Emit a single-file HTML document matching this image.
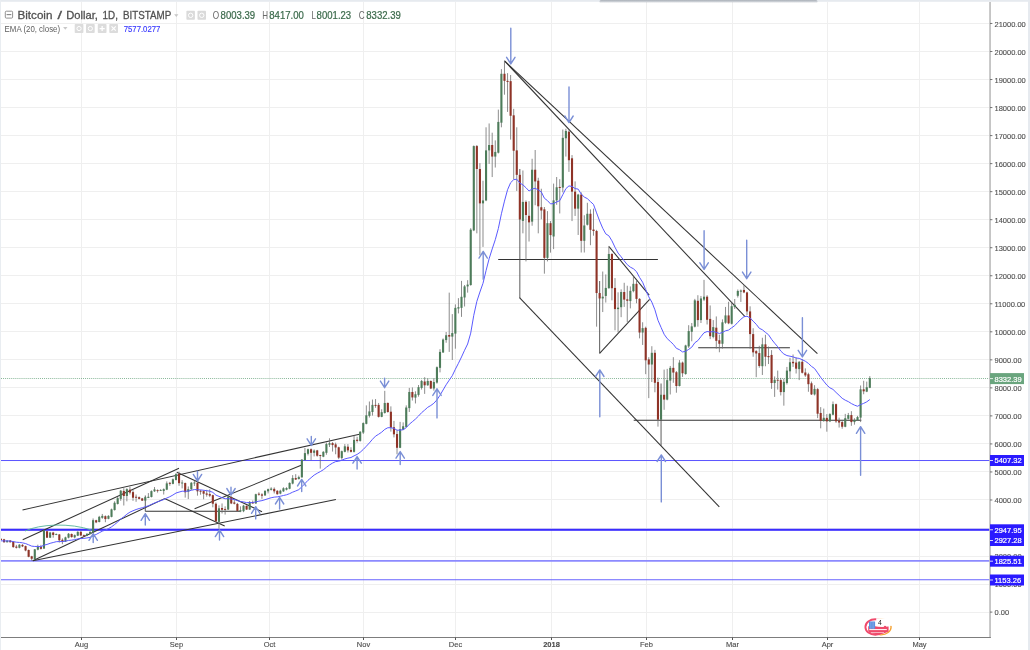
<!DOCTYPE html><html><head><meta charset="utf-8"><title>Bitcoin / Dollar, 1D, BITSTAMP</title><style>html,body{margin:0;padding:0;background:#fff}svg{display:block;will-change:transform}</style></head><body><svg width="1030" height="650" viewBox="0 0 1030 650" font-family="'Liberation Sans', Arial, sans-serif">
<rect width="1030" height="650" fill="#fff"/>
<line x1="81.5" y1="2" x2="81.5" y2="637" stroke="#efefef" stroke-width="1"/>
<line x1="176.5" y1="2" x2="176.5" y2="637" stroke="#efefef" stroke-width="1"/>
<line x1="269.5" y1="2" x2="269.5" y2="637" stroke="#efefef" stroke-width="1"/>
<line x1="363.5" y1="2" x2="363.5" y2="637" stroke="#efefef" stroke-width="1"/>
<line x1="455.5" y1="2" x2="455.5" y2="637" stroke="#efefef" stroke-width="1"/>
<line x1="551.5" y1="2" x2="551.5" y2="637" stroke="#efefef" stroke-width="1"/>
<line x1="646.5" y1="2" x2="646.5" y2="637" stroke="#efefef" stroke-width="1"/>
<line x1="732.5" y1="2" x2="732.5" y2="637" stroke="#efefef" stroke-width="1"/>
<line x1="827.5" y1="2" x2="827.5" y2="637" stroke="#efefef" stroke-width="1"/>
<line x1="919.5" y1="2" x2="919.5" y2="637" stroke="#efefef" stroke-width="1"/>
<line x1="1" y1="612.5" x2="990" y2="612.5" stroke="#efefef" stroke-width="1"/>
<line x1="1" y1="584.5" x2="990" y2="584.5" stroke="#efefef" stroke-width="1"/>
<line x1="1" y1="556.5" x2="990" y2="556.5" stroke="#efefef" stroke-width="1"/>
<line x1="1" y1="528.5" x2="990" y2="528.5" stroke="#efefef" stroke-width="1"/>
<line x1="1" y1="499.5" x2="990" y2="499.5" stroke="#efefef" stroke-width="1"/>
<line x1="1" y1="471.5" x2="990" y2="471.5" stroke="#efefef" stroke-width="1"/>
<line x1="1" y1="443.5" x2="990" y2="443.5" stroke="#efefef" stroke-width="1"/>
<line x1="1" y1="415.5" x2="990" y2="415.5" stroke="#efefef" stroke-width="1"/>
<line x1="1" y1="387.5" x2="990" y2="387.5" stroke="#efefef" stroke-width="1"/>
<line x1="1" y1="359.5" x2="990" y2="359.5" stroke="#efefef" stroke-width="1"/>
<line x1="1" y1="331.5" x2="990" y2="331.5" stroke="#efefef" stroke-width="1"/>
<line x1="1" y1="303.5" x2="990" y2="303.5" stroke="#efefef" stroke-width="1"/>
<line x1="1" y1="275.5" x2="990" y2="275.5" stroke="#efefef" stroke-width="1"/>
<line x1="1" y1="247.5" x2="990" y2="247.5" stroke="#efefef" stroke-width="1"/>
<line x1="1" y1="219.5" x2="990" y2="219.5" stroke="#efefef" stroke-width="1"/>
<line x1="1" y1="191.5" x2="990" y2="191.5" stroke="#efefef" stroke-width="1"/>
<line x1="1" y1="163.5" x2="990" y2="163.5" stroke="#efefef" stroke-width="1"/>
<line x1="1" y1="135.5" x2="990" y2="135.5" stroke="#efefef" stroke-width="1"/>
<line x1="1" y1="107.5" x2="990" y2="107.5" stroke="#efefef" stroke-width="1"/>
<line x1="1" y1="79.5" x2="990" y2="79.5" stroke="#efefef" stroke-width="1"/>
<line x1="1" y1="51.5" x2="990" y2="51.5" stroke="#efefef" stroke-width="1"/>
<line x1="1" y1="23.5" x2="990" y2="23.5" stroke="#efefef" stroke-width="1"/>
<line x1="1" y1="460.53" x2="990" y2="460.53" stroke="#5b55ff" stroke-width="1.0"/>
<line x1="1" y1="529.47" x2="990" y2="529.47" stroke="#3a2cff" stroke-width="1.35"/>
<line x1="1" y1="530.05" x2="990" y2="530.05" stroke="#3a2cff" stroke-width="1.35"/>
<line x1="1" y1="560.93" x2="990" y2="560.93" stroke="#8c8aff" stroke-width="1.7"/>
<line x1="1" y1="579.77" x2="990" y2="579.77" stroke="#6763ff" stroke-width="1.2"/>
<line x1="1" y1="378.5" x2="990" y2="378.5" stroke="#6aa57e" stroke-width="0.8" stroke-dasharray="1,1.05"/>
<line x1="22.5" y1="509.9" x2="359.5" y2="434.2" stroke="#333" stroke-width="1.05"/>
<line x1="22.7" y1="539.7" x2="179.0" y2="468.3" stroke="#333" stroke-width="1.05"/>
<line x1="32.8" y1="560.7" x2="164.5" y2="498.6" stroke="#333" stroke-width="1.05"/>
<line x1="32.8" y1="560.7" x2="335.9" y2="499.6" stroke="#333" stroke-width="1.05"/>
<line x1="176.8" y1="472.3" x2="262.0" y2="511.7" stroke="#333" stroke-width="1.05"/>
<line x1="164.5" y1="498.6" x2="224.7" y2="525.9" stroke="#333" stroke-width="1.05"/>
<line x1="145.3" y1="511.3" x2="240.5" y2="511.3" stroke="#333" stroke-width="1.05"/>
<line x1="194.6" y1="508.8" x2="301.8" y2="465.0" stroke="#333" stroke-width="1.05"/>
<line x1="504.5" y1="60.9" x2="817.4" y2="353.6" stroke="#333" stroke-width="1.05"/>
<line x1="504.5" y1="60.9" x2="745.0" y2="316.7" stroke="#333" stroke-width="1.05"/>
<line x1="519.5" y1="297.6" x2="719.3" y2="506.8" stroke="#333" stroke-width="1.05"/>
<line x1="498.2" y1="259.4" x2="657.9" y2="259.4" stroke="#333" stroke-width="1.05"/>
<line x1="609.0" y1="246.6" x2="649.2" y2="295.2" stroke="#333" stroke-width="1.05"/>
<line x1="599.6" y1="353.4" x2="649.6" y2="299.4" stroke="#333" stroke-width="1.05"/>
<line x1="698.2" y1="347.7" x2="789.9" y2="347.7" stroke="#333" stroke-width="1.05"/>
<line x1="633.7" y1="420.2" x2="861.3" y2="420.2" stroke="#333" stroke-width="1.05"/>
<path d="M25,531 C40,524 70,522.5 92,530.2" fill="none" stroke="#55b39a" stroke-width="0.9"/>
<line x1="1.00" y1="538.35" x2="1.00" y2="540.29" stroke="#6e6e6e" stroke-width="0.8"/>
<rect x="-0.05" y="538.83" width="2.1" height="1.17" fill="#8f3327"/>
<line x1="4.07" y1="538.83" x2="4.07" y2="542.72" stroke="#6e6e6e" stroke-width="0.8"/>
<rect x="3.02" y="539.32" width="2.1" height="2.91" fill="#8f3327"/>
<line x1="7.14" y1="540.29" x2="7.14" y2="542.52" stroke="#6e6e6e" stroke-width="0.8"/>
<rect x="6.09" y="540.58" width="2.1" height="1.65" fill="#4d7c5a"/>
<line x1="10.21" y1="540.00" x2="10.21" y2="542.52" stroke="#6e6e6e" stroke-width="0.8"/>
<rect x="9.16" y="540.58" width="2.1" height="1.65" fill="#8f3327"/>
<line x1="13.28" y1="541.26" x2="13.28" y2="547.77" stroke="#6e6e6e" stroke-width="0.8"/>
<rect x="12.23" y="541.75" width="2.1" height="5.34" fill="#8f3327"/>
<line x1="16.35" y1="544.85" x2="16.35" y2="548.54" stroke="#6e6e6e" stroke-width="0.8"/>
<rect x="15.30" y="546.60" width="2.1" height="1.17" fill="#8f3327"/>
<line x1="19.42" y1="544.17" x2="19.42" y2="548.35" stroke="#6e6e6e" stroke-width="0.8"/>
<rect x="18.37" y="544.66" width="2.1" height="3.11" fill="#4d7c5a"/>
<line x1="22.49" y1="544.17" x2="22.49" y2="547.09" stroke="#6e6e6e" stroke-width="0.8"/>
<rect x="21.44" y="544.85" width="2.1" height="1.55" fill="#8f3327"/>
<line x1="25.56" y1="545.63" x2="25.56" y2="551.26" stroke="#6e6e6e" stroke-width="0.8"/>
<rect x="24.51" y="546.12" width="2.1" height="4.37" fill="#8f3327"/>
<line x1="28.63" y1="549.51" x2="28.63" y2="557.28" stroke="#6e6e6e" stroke-width="0.8"/>
<rect x="27.58" y="550.00" width="2.1" height="6.80" fill="#8f3327"/>
<line x1="31.70" y1="555.83" x2="31.70" y2="560.68" stroke="#6e6e6e" stroke-width="0.8"/>
<rect x="30.65" y="556.31" width="2.1" height="2.43" fill="#8f3327"/>
<line x1="34.77" y1="549.03" x2="34.77" y2="559.42" stroke="#6e6e6e" stroke-width="0.8"/>
<rect x="33.72" y="549.32" width="2.1" height="9.90" fill="#4d7c5a"/>
<line x1="37.84" y1="544.66" x2="37.84" y2="550.29" stroke="#6e6e6e" stroke-width="0.8"/>
<rect x="36.79" y="546.60" width="2.1" height="3.11" fill="#4d7c5a"/>
<line x1="40.91" y1="544.85" x2="40.91" y2="549.51" stroke="#6e6e6e" stroke-width="0.8"/>
<rect x="39.86" y="547.09" width="2.1" height="1.75" fill="#8f3327"/>
<line x1="43.98" y1="529.61" x2="43.98" y2="549.03" stroke="#6e6e6e" stroke-width="0.8"/>
<rect x="42.93" y="530.58" width="2.1" height="17.96" fill="#4d7c5a"/>
<line x1="47.05" y1="530.87" x2="47.05" y2="538.06" stroke="#6e6e6e" stroke-width="0.8"/>
<rect x="46.00" y="531.26" width="2.1" height="6.41" fill="#8f3327"/>
<line x1="50.12" y1="531.84" x2="50.12" y2="538.06" stroke="#6e6e6e" stroke-width="0.8"/>
<rect x="49.07" y="532.52" width="2.1" height="5.15" fill="#4d7c5a"/>
<line x1="53.19" y1="531.84" x2="53.19" y2="537.67" stroke="#6e6e6e" stroke-width="0.8"/>
<rect x="52.14" y="532.52" width="2.1" height="2.43" fill="#8f3327"/>
<line x1="56.26" y1="533.50" x2="56.26" y2="535.15" stroke="#6e6e6e" stroke-width="0.8"/>
<rect x="55.21" y="533.98" width="2.1" height="0.90" fill="#4d7c5a"/>
<line x1="59.33" y1="533.98" x2="59.33" y2="542.52" stroke="#6e6e6e" stroke-width="0.8"/>
<rect x="58.28" y="534.47" width="2.1" height="5.83" fill="#8f3327"/>
<line x1="62.40" y1="538.35" x2="62.40" y2="544.17" stroke="#6e6e6e" stroke-width="0.8"/>
<rect x="61.35" y="539.81" width="2.1" height="1.75" fill="#8f3327"/>
<line x1="65.47" y1="536.70" x2="65.47" y2="541.94" stroke="#6e6e6e" stroke-width="0.8"/>
<rect x="64.42" y="537.38" width="2.1" height="4.17" fill="#4d7c5a"/>
<line x1="68.54" y1="533.01" x2="68.54" y2="538.35" stroke="#6e6e6e" stroke-width="0.8"/>
<rect x="67.49" y="533.79" width="2.1" height="3.88" fill="#4d7c5a"/>
<line x1="71.61" y1="533.50" x2="71.61" y2="537.67" stroke="#6e6e6e" stroke-width="0.8"/>
<rect x="70.56" y="533.98" width="2.1" height="3.11" fill="#8f3327"/>
<line x1="74.68" y1="534.47" x2="74.68" y2="538.35" stroke="#6e6e6e" stroke-width="0.8"/>
<rect x="73.63" y="535.15" width="2.1" height="2.23" fill="#4d7c5a"/>
<line x1="77.75" y1="531.26" x2="77.75" y2="536.12" stroke="#6e6e6e" stroke-width="0.8"/>
<rect x="76.70" y="531.84" width="2.1" height="3.88" fill="#4d7c5a"/>
<line x1="80.82" y1="531.07" x2="80.82" y2="536.12" stroke="#6e6e6e" stroke-width="0.8"/>
<rect x="79.77" y="531.84" width="2.1" height="3.59" fill="#8f3327"/>
<line x1="83.89" y1="534.47" x2="83.89" y2="536.89" stroke="#6e6e6e" stroke-width="0.8"/>
<rect x="82.84" y="535.15" width="2.1" height="1.26" fill="#8f3327"/>
<line x1="86.96" y1="533.20" x2="86.96" y2="536.12" stroke="#6e6e6e" stroke-width="0.8"/>
<rect x="85.91" y="533.79" width="2.1" height="1.94" fill="#4d7c5a"/>
<line x1="90.03" y1="531.26" x2="90.03" y2="534.47" stroke="#6e6e6e" stroke-width="0.8"/>
<rect x="88.98" y="531.84" width="2.1" height="2.14" fill="#4d7c5a"/>
<line x1="93.10" y1="518.45" x2="93.10" y2="533.01" stroke="#6e6e6e" stroke-width="0.8"/>
<rect x="92.05" y="520.19" width="2.1" height="12.33" fill="#4d7c5a"/>
<line x1="96.17" y1="519.77" x2="96.17" y2="523.17" stroke="#6e6e6e" stroke-width="0.8"/>
<rect x="95.12" y="520.25" width="2.1" height="2.14" fill="#8f3327"/>
<line x1="99.24" y1="515.88" x2="99.24" y2="522.39" stroke="#6e6e6e" stroke-width="0.8"/>
<rect x="98.19" y="516.85" width="2.1" height="5.15" fill="#4d7c5a"/>
<line x1="102.31" y1="513.94" x2="102.31" y2="518.80" stroke="#6e6e6e" stroke-width="0.8"/>
<rect x="101.26" y="515.88" width="2.1" height="1.94" fill="#4d7c5a"/>
<line x1="105.38" y1="515.40" x2="105.38" y2="522.19" stroke="#6e6e6e" stroke-width="0.8"/>
<rect x="104.33" y="516.17" width="2.1" height="2.91" fill="#8f3327"/>
<line x1="108.45" y1="515.20" x2="108.45" y2="519.28" stroke="#6e6e6e" stroke-width="0.8"/>
<rect x="107.40" y="515.88" width="2.1" height="2.91" fill="#4d7c5a"/>
<line x1="111.52" y1="508.60" x2="111.52" y2="517.34" stroke="#6e6e6e" stroke-width="0.8"/>
<rect x="110.47" y="509.38" width="2.1" height="7.48" fill="#4d7c5a"/>
<line x1="114.59" y1="501.32" x2="114.59" y2="510.54" stroke="#6e6e6e" stroke-width="0.8"/>
<rect x="113.54" y="502.78" width="2.1" height="7.28" fill="#4d7c5a"/>
<line x1="117.66" y1="496.95" x2="117.66" y2="504.52" stroke="#6e6e6e" stroke-width="0.8"/>
<rect x="116.61" y="498.12" width="2.1" height="5.83" fill="#4d7c5a"/>
<line x1="120.73" y1="489.96" x2="120.73" y2="500.83" stroke="#6e6e6e" stroke-width="0.8"/>
<rect x="119.68" y="490.64" width="2.1" height="8.25" fill="#4d7c5a"/>
<line x1="123.80" y1="488.21" x2="123.80" y2="505.50" stroke="#6e6e6e" stroke-width="0.8"/>
<rect x="122.75" y="490.93" width="2.1" height="5.05" fill="#8f3327"/>
<line x1="126.87" y1="488.21" x2="126.87" y2="501.32" stroke="#6e6e6e" stroke-width="0.8"/>
<rect x="125.82" y="489.18" width="2.1" height="6.80" fill="#4d7c5a"/>
<line x1="129.94" y1="486.76" x2="129.94" y2="494.52" stroke="#6e6e6e" stroke-width="0.8"/>
<rect x="128.89" y="489.67" width="2.1" height="2.91" fill="#8f3327"/>
<line x1="133.01" y1="490.16" x2="133.01" y2="500.83" stroke="#6e6e6e" stroke-width="0.8"/>
<rect x="131.96" y="492.10" width="2.1" height="5.63" fill="#8f3327"/>
<line x1="136.08" y1="494.52" x2="136.08" y2="501.81" stroke="#6e6e6e" stroke-width="0.8"/>
<rect x="135.03" y="496.76" width="2.1" height="0.97" fill="#8f3327"/>
<line x1="139.15" y1="496.47" x2="139.15" y2="499.38" stroke="#6e6e6e" stroke-width="0.8"/>
<rect x="138.10" y="497.15" width="2.1" height="1.75" fill="#8f3327"/>
<line x1="142.22" y1="497.92" x2="142.22" y2="501.03" stroke="#6e6e6e" stroke-width="0.8"/>
<rect x="141.17" y="498.41" width="2.1" height="2.23" fill="#8f3327"/>
<line x1="145.29" y1="495.50" x2="145.29" y2="511.32" stroke="#4a4a4a" stroke-width="0.9"/>
<rect x="144.24" y="497.15" width="2.1" height="3.50" fill="#4d7c5a"/>
<line x1="148.36" y1="493.07" x2="148.36" y2="498.12" stroke="#6e6e6e" stroke-width="0.8"/>
<rect x="147.31" y="496.76" width="2.1" height="1.17" fill="#4d7c5a"/>
<line x1="151.43" y1="490.35" x2="151.43" y2="497.44" stroke="#6e6e6e" stroke-width="0.8"/>
<rect x="150.38" y="491.13" width="2.1" height="5.83" fill="#4d7c5a"/>
<line x1="154.50" y1="487.05" x2="154.50" y2="491.90" stroke="#6e6e6e" stroke-width="0.8"/>
<rect x="153.45" y="489.38" width="2.1" height="1.94" fill="#4d7c5a"/>
<line x1="157.57" y1="489.38" x2="157.57" y2="492.58" stroke="#6e6e6e" stroke-width="0.8"/>
<rect x="156.52" y="490.16" width="2.1" height="0.90" fill="#8f3327"/>
<line x1="160.64" y1="489.18" x2="160.64" y2="490.93" stroke="#6e6e6e" stroke-width="0.8"/>
<rect x="159.59" y="489.96" width="2.1" height="0.90" fill="#4d7c5a"/>
<line x1="163.71" y1="488.41" x2="163.71" y2="494.52" stroke="#6e6e6e" stroke-width="0.8"/>
<rect x="162.66" y="489.18" width="2.1" height="1.75" fill="#4d7c5a"/>
<line x1="166.78" y1="481.42" x2="166.78" y2="490.16" stroke="#6e6e6e" stroke-width="0.8"/>
<rect x="165.73" y="483.36" width="2.1" height="6.31" fill="#4d7c5a"/>
<line x1="169.85" y1="481.90" x2="169.85" y2="485.79" stroke="#6e6e6e" stroke-width="0.8"/>
<rect x="168.80" y="482.87" width="2.1" height="0.97" fill="#8f3327"/>
<line x1="172.92" y1="478.50" x2="172.92" y2="484.33" stroke="#6e6e6e" stroke-width="0.8"/>
<rect x="171.87" y="479.28" width="2.1" height="4.56" fill="#4d7c5a"/>
<line x1="175.99" y1="473.17" x2="175.99" y2="480.45" stroke="#6e6e6e" stroke-width="0.8"/>
<rect x="174.94" y="474.14" width="2.1" height="5.83" fill="#4d7c5a"/>
<line x1="179.06" y1="471.71" x2="179.06" y2="485.79" stroke="#6e6e6e" stroke-width="0.8"/>
<rect x="178.01" y="473.84" width="2.1" height="9.32" fill="#8f3327"/>
<line x1="182.13" y1="480.14" x2="182.13" y2="488.39" stroke="#6e6e6e" stroke-width="0.8"/>
<rect x="181.08" y="482.56" width="2.1" height="0.90" fill="#4d7c5a"/>
<line x1="185.20" y1="482.56" x2="185.20" y2="497.61" stroke="#6e6e6e" stroke-width="0.8"/>
<rect x="184.15" y="483.05" width="2.1" height="9.22" fill="#8f3327"/>
<line x1="188.27" y1="486.45" x2="188.27" y2="499.07" stroke="#6e6e6e" stroke-width="0.8"/>
<rect x="187.22" y="489.17" width="2.1" height="2.62" fill="#4d7c5a"/>
<line x1="191.34" y1="482.08" x2="191.34" y2="489.84" stroke="#6e6e6e" stroke-width="0.8"/>
<rect x="190.29" y="482.76" width="2.1" height="6.60" fill="#4d7c5a"/>
<line x1="194.41" y1="480.62" x2="194.41" y2="485.96" stroke="#6e6e6e" stroke-width="0.8"/>
<rect x="193.36" y="482.56" width="2.1" height="0.90" fill="#4d7c5a"/>
<line x1="197.48" y1="482.08" x2="197.48" y2="495.67" stroke="#6e6e6e" stroke-width="0.8"/>
<rect x="196.43" y="482.76" width="2.1" height="8.54" fill="#8f3327"/>
<line x1="200.55" y1="489.84" x2="200.55" y2="494.70" stroke="#6e6e6e" stroke-width="0.8"/>
<rect x="199.50" y="490.82" width="2.1" height="0.90" fill="#8f3327"/>
<line x1="203.62" y1="490.33" x2="203.62" y2="499.26" stroke="#6e6e6e" stroke-width="0.8"/>
<rect x="202.57" y="491.11" width="2.1" height="2.62" fill="#8f3327"/>
<line x1="206.69" y1="489.84" x2="206.69" y2="496.64" stroke="#6e6e6e" stroke-width="0.8"/>
<rect x="205.64" y="493.44" width="2.1" height="1.26" fill="#8f3327"/>
<line x1="209.76" y1="489.36" x2="209.76" y2="497.13" stroke="#6e6e6e" stroke-width="0.8"/>
<rect x="208.71" y="494.02" width="2.1" height="1.65" fill="#8f3327"/>
<line x1="212.83" y1="494.70" x2="212.83" y2="507.32" stroke="#6e6e6e" stroke-width="0.8"/>
<rect x="211.78" y="495.18" width="2.1" height="8.54" fill="#8f3327"/>
<line x1="215.90" y1="502.47" x2="215.90" y2="521.88" stroke="#6e6e6e" stroke-width="0.8"/>
<rect x="214.85" y="503.73" width="2.1" height="17.67" fill="#8f3327"/>
<line x1="218.97" y1="505.38" x2="218.97" y2="528.68" stroke="#6e6e6e" stroke-width="0.8"/>
<rect x="217.92" y="508.29" width="2.1" height="13.59" fill="#4d7c5a"/>
<line x1="222.04" y1="503.44" x2="222.04" y2="513.44" stroke="#6e6e6e" stroke-width="0.8"/>
<rect x="220.99" y="508.00" width="2.1" height="1.75" fill="#8f3327"/>
<line x1="225.11" y1="506.35" x2="225.11" y2="514.60" stroke="#6e6e6e" stroke-width="0.8"/>
<rect x="224.06" y="508.97" width="2.1" height="0.90" fill="#8f3327"/>
<line x1="228.18" y1="495.67" x2="228.18" y2="509.94" stroke="#6e6e6e" stroke-width="0.8"/>
<rect x="227.13" y="496.64" width="2.1" height="12.91" fill="#4d7c5a"/>
<line x1="231.25" y1="496.16" x2="231.25" y2="504.12" stroke="#6e6e6e" stroke-width="0.8"/>
<rect x="230.20" y="497.13" width="2.1" height="6.31" fill="#8f3327"/>
<line x1="234.32" y1="499.55" x2="234.32" y2="504.41" stroke="#6e6e6e" stroke-width="0.8"/>
<rect x="233.27" y="502.47" width="2.1" height="1.26" fill="#8f3327"/>
<line x1="237.39" y1="502.95" x2="237.39" y2="511.50" stroke="#6e6e6e" stroke-width="0.8"/>
<rect x="236.34" y="503.92" width="2.1" height="6.99" fill="#8f3327"/>
<line x1="240.46" y1="506.35" x2="240.46" y2="512.17" stroke="#6e6e6e" stroke-width="0.8"/>
<rect x="239.41" y="510.23" width="2.1" height="1.26" fill="#4d7c5a"/>
<line x1="243.53" y1="504.89" x2="243.53" y2="512.17" stroke="#6e6e6e" stroke-width="0.8"/>
<rect x="242.48" y="505.67" width="2.1" height="5.53" fill="#4d7c5a"/>
<line x1="246.60" y1="505.38" x2="246.60" y2="509.94" stroke="#6e6e6e" stroke-width="0.8"/>
<rect x="245.55" y="505.86" width="2.1" height="3.69" fill="#8f3327"/>
<line x1="249.67" y1="501.01" x2="249.67" y2="509.94" stroke="#6e6e6e" stroke-width="0.8"/>
<rect x="248.62" y="501.98" width="2.1" height="7.57" fill="#4d7c5a"/>
<line x1="252.74" y1="500.52" x2="252.74" y2="503.73" stroke="#6e6e6e" stroke-width="0.8"/>
<rect x="251.69" y="501.98" width="2.1" height="1.46" fill="#8f3327"/>
<line x1="255.81" y1="493.73" x2="255.81" y2="503.92" stroke="#6e6e6e" stroke-width="0.8"/>
<rect x="254.76" y="494.21" width="2.1" height="9.22" fill="#4d7c5a"/>
<line x1="258.88" y1="492.27" x2="258.88" y2="495.67" stroke="#6e6e6e" stroke-width="0.8"/>
<rect x="257.83" y="493.73" width="2.1" height="0.97" fill="#8f3327"/>
<line x1="261.95" y1="493.24" x2="261.95" y2="498.87" stroke="#6e6e6e" stroke-width="0.8"/>
<rect x="260.90" y="494.41" width="2.1" height="1.26" fill="#8f3327"/>
<line x1="265.02" y1="490.33" x2="265.02" y2="495.96" stroke="#6e6e6e" stroke-width="0.8"/>
<rect x="263.97" y="490.82" width="2.1" height="4.56" fill="#4d7c5a"/>
<line x1="268.09" y1="488.58" x2="268.09" y2="493.44" stroke="#6e6e6e" stroke-width="0.8"/>
<rect x="267.04" y="489.17" width="2.1" height="2.14" fill="#4d7c5a"/>
<line x1="271.16" y1="487.22" x2="271.16" y2="490.52" stroke="#6e6e6e" stroke-width="0.8"/>
<rect x="270.11" y="488.58" width="2.1" height="1.26" fill="#4d7c5a"/>
<line x1="274.23" y1="487.42" x2="274.23" y2="493.44" stroke="#6e6e6e" stroke-width="0.8"/>
<rect x="273.18" y="488.87" width="2.1" height="2.43" fill="#8f3327"/>
<line x1="277.30" y1="490.14" x2="277.30" y2="494.70" stroke="#6e6e6e" stroke-width="0.8"/>
<rect x="276.25" y="490.82" width="2.1" height="3.40" fill="#8f3327"/>
<line x1="280.37" y1="489.71" x2="280.37" y2="494.27" stroke="#6e6e6e" stroke-width="0.8"/>
<rect x="279.32" y="490.68" width="2.1" height="2.91" fill="#4d7c5a"/>
<line x1="283.44" y1="487.28" x2="283.44" y2="491.94" stroke="#6e6e6e" stroke-width="0.8"/>
<rect x="282.39" y="488.25" width="2.1" height="3.11" fill="#4d7c5a"/>
<line x1="286.51" y1="487.28" x2="286.51" y2="490.39" stroke="#6e6e6e" stroke-width="0.8"/>
<rect x="285.46" y="488.06" width="2.1" height="1.65" fill="#4d7c5a"/>
<line x1="289.58" y1="482.43" x2="289.58" y2="489.22" stroke="#6e6e6e" stroke-width="0.8"/>
<rect x="288.53" y="482.91" width="2.1" height="5.83" fill="#4d7c5a"/>
<line x1="292.65" y1="475.15" x2="292.65" y2="484.37" stroke="#6e6e6e" stroke-width="0.8"/>
<rect x="291.60" y="478.06" width="2.1" height="5.53" fill="#4d7c5a"/>
<line x1="295.72" y1="474.17" x2="295.72" y2="480.00" stroke="#6e6e6e" stroke-width="0.8"/>
<rect x="294.67" y="478.06" width="2.1" height="1.46" fill="#8f3327"/>
<line x1="298.79" y1="475.63" x2="298.79" y2="479.51" stroke="#6e6e6e" stroke-width="0.8"/>
<rect x="297.74" y="477.09" width="2.1" height="1.94" fill="#4d7c5a"/>
<line x1="301.86" y1="459.13" x2="301.86" y2="477.57" stroke="#6e6e6e" stroke-width="0.8"/>
<rect x="300.81" y="459.61" width="2.1" height="17.77" fill="#4d7c5a"/>
<line x1="304.93" y1="447.96" x2="304.93" y2="460.58" stroke="#6e6e6e" stroke-width="0.8"/>
<rect x="303.88" y="453.11" width="2.1" height="6.99" fill="#4d7c5a"/>
<line x1="308.00" y1="448.64" x2="308.00" y2="455.44" stroke="#6e6e6e" stroke-width="0.8"/>
<rect x="306.95" y="449.22" width="2.1" height="4.56" fill="#4d7c5a"/>
<line x1="311.07" y1="448.45" x2="311.07" y2="460.29" stroke="#6e6e6e" stroke-width="0.8"/>
<rect x="310.02" y="449.22" width="2.1" height="3.59" fill="#8f3327"/>
<line x1="314.14" y1="449.42" x2="314.14" y2="456.41" stroke="#6e6e6e" stroke-width="0.8"/>
<rect x="313.09" y="450.58" width="2.1" height="2.23" fill="#4d7c5a"/>
<line x1="317.21" y1="449.90" x2="317.21" y2="456.70" stroke="#6e6e6e" stroke-width="0.8"/>
<rect x="316.16" y="450.39" width="2.1" height="5.34" fill="#8f3327"/>
<line x1="320.28" y1="454.76" x2="320.28" y2="468.64" stroke="#6e6e6e" stroke-width="0.8"/>
<rect x="319.23" y="455.05" width="2.1" height="0.97" fill="#8f3327"/>
<line x1="323.35" y1="451.17" x2="323.35" y2="457.18" stroke="#6e6e6e" stroke-width="0.8"/>
<rect x="322.30" y="451.84" width="2.1" height="4.85" fill="#4d7c5a"/>
<line x1="326.42" y1="442.62" x2="326.42" y2="454.76" stroke="#6e6e6e" stroke-width="0.8"/>
<rect x="325.37" y="444.08" width="2.1" height="8.74" fill="#4d7c5a"/>
<line x1="329.49" y1="438.25" x2="329.49" y2="446.99" stroke="#6e6e6e" stroke-width="0.8"/>
<rect x="328.44" y="443.11" width="2.1" height="1.65" fill="#4d7c5a"/>
<line x1="332.56" y1="442.14" x2="332.56" y2="451.55" stroke="#6e6e6e" stroke-width="0.8"/>
<rect x="331.51" y="443.11" width="2.1" height="1.94" fill="#8f3327"/>
<line x1="335.63" y1="442.62" x2="335.63" y2="454.27" stroke="#6e6e6e" stroke-width="0.8"/>
<rect x="334.58" y="444.37" width="2.1" height="3.11" fill="#8f3327"/>
<line x1="338.70" y1="446.70" x2="338.70" y2="459.13" stroke="#6e6e6e" stroke-width="0.8"/>
<rect x="337.65" y="447.28" width="2.1" height="10.39" fill="#8f3327"/>
<line x1="341.77" y1="450.58" x2="341.77" y2="459.61" stroke="#6e6e6e" stroke-width="0.8"/>
<rect x="340.72" y="451.17" width="2.1" height="6.80" fill="#4d7c5a"/>
<line x1="344.84" y1="444.08" x2="344.84" y2="452.33" stroke="#6e6e6e" stroke-width="0.8"/>
<rect x="343.79" y="446.31" width="2.1" height="5.53" fill="#4d7c5a"/>
<line x1="347.91" y1="444.08" x2="347.91" y2="452.52" stroke="#6e6e6e" stroke-width="0.8"/>
<rect x="346.86" y="446.70" width="2.1" height="3.69" fill="#8f3327"/>
<line x1="350.98" y1="447.28" x2="350.98" y2="452.52" stroke="#6e6e6e" stroke-width="0.8"/>
<rect x="349.93" y="449.90" width="2.1" height="1.94" fill="#8f3327"/>
<line x1="354.05" y1="435.34" x2="354.05" y2="452.52" stroke="#6e6e6e" stroke-width="0.8"/>
<rect x="353.00" y="439.90" width="2.1" height="11.94" fill="#4d7c5a"/>
<line x1="357.12" y1="436.80" x2="357.12" y2="442.62" stroke="#6e6e6e" stroke-width="0.8"/>
<rect x="356.07" y="439.71" width="2.1" height="1.17" fill="#8f3327"/>
<line x1="360.19" y1="431.17" x2="360.19" y2="441.65" stroke="#6e6e6e" stroke-width="0.8"/>
<rect x="359.14" y="431.75" width="2.1" height="9.13" fill="#4d7c5a"/>
<line x1="363.26" y1="422.38" x2="363.26" y2="434.03" stroke="#6e6e6e" stroke-width="0.8"/>
<rect x="362.21" y="423.06" width="2.1" height="9.51" fill="#4d7c5a"/>
<line x1="366.33" y1="405.39" x2="366.33" y2="424.32" stroke="#6e6e6e" stroke-width="0.8"/>
<rect x="365.28" y="415.29" width="2.1" height="8.54" fill="#4d7c5a"/>
<line x1="369.40" y1="401.50" x2="369.40" y2="417.52" stroke="#6e6e6e" stroke-width="0.8"/>
<rect x="368.35" y="411.41" width="2.1" height="4.47" fill="#4d7c5a"/>
<line x1="372.47" y1="399.56" x2="372.47" y2="415.58" stroke="#6e6e6e" stroke-width="0.8"/>
<rect x="371.42" y="404.90" width="2.1" height="7.09" fill="#4d7c5a"/>
<line x1="375.54" y1="399.08" x2="375.54" y2="407.82" stroke="#6e6e6e" stroke-width="0.8"/>
<rect x="374.49" y="404.90" width="2.1" height="0.97" fill="#8f3327"/>
<line x1="378.61" y1="402.96" x2="378.61" y2="417.52" stroke="#6e6e6e" stroke-width="0.8"/>
<rect x="377.56" y="404.90" width="2.1" height="11.94" fill="#8f3327"/>
<line x1="381.68" y1="409.27" x2="381.68" y2="417.23" stroke="#6e6e6e" stroke-width="0.8"/>
<rect x="380.63" y="412.18" width="2.1" height="4.66" fill="#4d7c5a"/>
<line x1="384.75" y1="390.83" x2="384.75" y2="413.64" stroke="#6e6e6e" stroke-width="0.8"/>
<rect x="383.70" y="402.96" width="2.1" height="10.00" fill="#4d7c5a"/>
<line x1="387.82" y1="402.48" x2="387.82" y2="412.67" stroke="#6e6e6e" stroke-width="0.8"/>
<rect x="386.77" y="402.96" width="2.1" height="9.03" fill="#8f3327"/>
<line x1="390.89" y1="406.36" x2="390.89" y2="431.60" stroke="#6e6e6e" stroke-width="0.8"/>
<rect x="389.84" y="411.70" width="2.1" height="16.02" fill="#8f3327"/>
<line x1="393.96" y1="420.92" x2="393.96" y2="437.43" stroke="#6e6e6e" stroke-width="0.8"/>
<rect x="392.91" y="427.23" width="2.1" height="7.09" fill="#8f3327"/>
<line x1="397.03" y1="430.15" x2="397.03" y2="454.25" stroke="#6e6e6e" stroke-width="0.8"/>
<rect x="395.98" y="434.03" width="2.1" height="13.76" fill="#8f3327"/>
<line x1="400.10" y1="421.89" x2="400.10" y2="448.13" stroke="#6e6e6e" stroke-width="0.8"/>
<rect x="399.05" y="429.17" width="2.1" height="18.61" fill="#4d7c5a"/>
<line x1="403.17" y1="422.38" x2="403.17" y2="430.15" stroke="#6e6e6e" stroke-width="0.8"/>
<rect x="402.12" y="426.26" width="2.1" height="3.40" fill="#4d7c5a"/>
<line x1="406.24" y1="405.39" x2="406.24" y2="427.52" stroke="#6e6e6e" stroke-width="0.8"/>
<rect x="405.19" y="407.52" width="2.1" height="19.42" fill="#4d7c5a"/>
<line x1="409.31" y1="387.91" x2="409.31" y2="411.99" stroke="#6e6e6e" stroke-width="0.8"/>
<rect x="408.26" y="391.99" width="2.1" height="16.12" fill="#4d7c5a"/>
<line x1="412.38" y1="387.43" x2="412.38" y2="400.53" stroke="#6e6e6e" stroke-width="0.8"/>
<rect x="411.33" y="391.99" width="2.1" height="5.44" fill="#8f3327"/>
<line x1="415.45" y1="391.31" x2="415.45" y2="403.45" stroke="#6e6e6e" stroke-width="0.8"/>
<rect x="414.40" y="394.22" width="2.1" height="3.40" fill="#4d7c5a"/>
<line x1="418.52" y1="385.00" x2="418.52" y2="396.65" stroke="#6e6e6e" stroke-width="0.8"/>
<rect x="417.47" y="387.14" width="2.1" height="7.77" fill="#4d7c5a"/>
<line x1="421.59" y1="379.90" x2="421.59" y2="389.59" stroke="#6e6e6e" stroke-width="0.8"/>
<rect x="420.54" y="380.97" width="2.1" height="7.00" fill="#4d7c5a"/>
<line x1="424.66" y1="377.21" x2="424.66" y2="393.89" stroke="#6e6e6e" stroke-width="0.8"/>
<rect x="423.61" y="381.51" width="2.1" height="3.77" fill="#8f3327"/>
<line x1="427.73" y1="378.28" x2="427.73" y2="385.82" stroke="#6e6e6e" stroke-width="0.8"/>
<rect x="426.68" y="380.97" width="2.1" height="4.31" fill="#4d7c5a"/>
<line x1="430.80" y1="380.44" x2="430.80" y2="389.05" stroke="#6e6e6e" stroke-width="0.8"/>
<rect x="429.75" y="380.97" width="2.1" height="7.53" fill="#8f3327"/>
<line x1="433.87" y1="378.28" x2="433.87" y2="390.66" stroke="#6e6e6e" stroke-width="0.8"/>
<rect x="432.82" y="382.05" width="2.1" height="6.46" fill="#4d7c5a"/>
<line x1="436.94" y1="366.44" x2="436.94" y2="383.67" stroke="#6e6e6e" stroke-width="0.8"/>
<rect x="435.89" y="367.20" width="2.1" height="15.39" fill="#4d7c5a"/>
<line x1="440.01" y1="349.22" x2="440.01" y2="372.36" stroke="#6e6e6e" stroke-width="0.8"/>
<rect x="438.96" y="351.91" width="2.1" height="15.93" fill="#4d7c5a"/>
<line x1="443.08" y1="338.46" x2="443.08" y2="352.99" stroke="#6e6e6e" stroke-width="0.8"/>
<rect x="442.03" y="339.53" width="2.1" height="12.92" fill="#4d7c5a"/>
<line x1="446.15" y1="332.00" x2="446.15" y2="342.76" stroke="#6e6e6e" stroke-width="0.8"/>
<rect x="445.10" y="335.23" width="2.1" height="4.84" fill="#4d7c5a"/>
<line x1="449.22" y1="292.63" x2="449.22" y2="351.91" stroke="#6e6e6e" stroke-width="0.8"/>
<rect x="448.17" y="335.01" width="2.1" height="1.61" fill="#8f3327"/>
<line x1="452.29" y1="314.10" x2="452.29" y2="359.98" stroke="#6e6e6e" stroke-width="0.8"/>
<rect x="451.24" y="333.07" width="2.1" height="3.55" fill="#4d7c5a"/>
<line x1="455.36" y1="304.40" x2="455.36" y2="348.68" stroke="#6e6e6e" stroke-width="0.8"/>
<rect x="454.31" y="307.87" width="2.1" height="25.74" fill="#4d7c5a"/>
<line x1="458.43" y1="298.17" x2="458.43" y2="313.41" stroke="#6e6e6e" stroke-width="0.8"/>
<rect x="457.38" y="307.17" width="2.1" height="1.39" fill="#4d7c5a"/>
<line x1="461.50" y1="280.86" x2="461.50" y2="316.87" stroke="#6e6e6e" stroke-width="0.8"/>
<rect x="460.45" y="296.79" width="2.1" height="11.08" fill="#4d7c5a"/>
<line x1="464.57" y1="285.01" x2="464.57" y2="306.48" stroke="#6e6e6e" stroke-width="0.8"/>
<rect x="463.52" y="286.40" width="2.1" height="11.08" fill="#4d7c5a"/>
<line x1="467.64" y1="280.17" x2="467.64" y2="292.63" stroke="#6e6e6e" stroke-width="0.8"/>
<rect x="466.59" y="284.60" width="2.1" height="1.80" fill="#4d7c5a"/>
<line x1="470.71" y1="228.22" x2="470.71" y2="285.71" stroke="#6e6e6e" stroke-width="0.8"/>
<rect x="469.66" y="229.68" width="2.1" height="55.34" fill="#4d7c5a"/>
<line x1="473.78" y1="145.46" x2="473.78" y2="231.14" stroke="#6e6e6e" stroke-width="0.8"/>
<rect x="472.73" y="146.08" width="2.1" height="84.33" fill="#4d7c5a"/>
<line x1="476.85" y1="145.00" x2="476.85" y2="233.33" stroke="#6e6e6e" stroke-width="0.8"/>
<rect x="475.80" y="146.08" width="2.1" height="22.93" fill="#8f3327"/>
<line x1="479.92" y1="163.16" x2="479.92" y2="255.24" stroke="#6e6e6e" stroke-width="0.8"/>
<rect x="478.87" y="169.01" width="2.1" height="34.36" fill="#8f3327"/>
<line x1="482.99" y1="180.70" x2="482.99" y2="246.93" stroke="#6e6e6e" stroke-width="0.8"/>
<rect x="481.94" y="200.44" width="2.1" height="2.92" fill="#4d7c5a"/>
<line x1="486.06" y1="127.31" x2="486.06" y2="201.17" stroke="#6e6e6e" stroke-width="0.8"/>
<rect x="485.01" y="150.38" width="2.1" height="50.05" fill="#4d7c5a"/>
<line x1="489.13" y1="123.46" x2="489.13" y2="163.89" stroke="#6e6e6e" stroke-width="0.8"/>
<rect x="488.08" y="145.00" width="2.1" height="5.38" fill="#4d7c5a"/>
<line x1="492.20" y1="132.69" x2="492.20" y2="177.05" stroke="#6e6e6e" stroke-width="0.8"/>
<rect x="491.15" y="145.00" width="2.1" height="11.58" fill="#8f3327"/>
<line x1="495.27" y1="140.38" x2="495.27" y2="167.54" stroke="#6e6e6e" stroke-width="0.8"/>
<rect x="494.22" y="151.92" width="2.1" height="4.66" fill="#4d7c5a"/>
<line x1="498.34" y1="109.62" x2="498.34" y2="153.46" stroke="#6e6e6e" stroke-width="0.8"/>
<rect x="497.29" y="121.92" width="2.1" height="30.77" fill="#4d7c5a"/>
<line x1="501.41" y1="69.15" x2="501.41" y2="127.31" stroke="#6e6e6e" stroke-width="0.8"/>
<rect x="500.36" y="73.77" width="2.1" height="48.92" fill="#4d7c5a"/>
<line x1="504.48" y1="60.85" x2="504.48" y2="94.69" stroke="#6e6e6e" stroke-width="0.8"/>
<rect x="503.43" y="73.77" width="2.1" height="7.08" fill="#8f3327"/>
<line x1="507.55" y1="73.15" x2="507.55" y2="111.92" stroke="#6e6e6e" stroke-width="0.8"/>
<rect x="506.50" y="80.85" width="2.1" height="1.08" fill="#8f3327"/>
<line x1="510.62" y1="75.00" x2="510.62" y2="139.62" stroke="#6e6e6e" stroke-width="0.8"/>
<rect x="509.57" y="81.15" width="2.1" height="34.62" fill="#8f3327"/>
<line x1="513.69" y1="108.85" x2="513.69" y2="179.24" stroke="#6e6e6e" stroke-width="0.8"/>
<rect x="512.64" y="115.31" width="2.1" height="35.42" fill="#8f3327"/>
<line x1="516.76" y1="127.31" x2="516.76" y2="190.94" stroke="#6e6e6e" stroke-width="0.8"/>
<rect x="515.71" y="150.38" width="2.1" height="24.47" fill="#8f3327"/>
<line x1="519.83" y1="169.01" x2="519.83" y2="298.25" stroke="#4a4a4a" stroke-width="0.9"/>
<rect x="518.78" y="174.85" width="2.1" height="44.59" fill="#8f3327"/>
<line x1="522.90" y1="170.47" x2="522.90" y2="233.33" stroke="#6e6e6e" stroke-width="0.8"/>
<rect x="521.85" y="201.90" width="2.1" height="19.01" fill="#4d7c5a"/>
<line x1="525.97" y1="200.44" x2="525.97" y2="261.40" stroke="#6e6e6e" stroke-width="0.8"/>
<rect x="524.92" y="201.90" width="2.1" height="13.16" fill="#8f3327"/>
<line x1="529.04" y1="201.17" x2="529.04" y2="241.52" stroke="#6e6e6e" stroke-width="0.8"/>
<rect x="527.99" y="215.79" width="2.1" height="6.58" fill="#8f3327"/>
<line x1="532.11" y1="158.77" x2="532.11" y2="225.73" stroke="#6e6e6e" stroke-width="0.8"/>
<rect x="531.06" y="169.74" width="2.1" height="51.90" fill="#4d7c5a"/>
<line x1="535.18" y1="150.00" x2="535.18" y2="205.26" stroke="#6e6e6e" stroke-width="0.8"/>
<rect x="534.13" y="169.74" width="2.1" height="11.70" fill="#8f3327"/>
<line x1="538.25" y1="177.78" x2="538.25" y2="233.33" stroke="#6e6e6e" stroke-width="0.8"/>
<rect x="537.20" y="180.70" width="2.1" height="25.58" fill="#8f3327"/>
<line x1="541.32" y1="188.74" x2="541.32" y2="219.30" stroke="#6e6e6e" stroke-width="0.8"/>
<rect x="540.27" y="207.25" width="2.1" height="3.27" fill="#8f3327"/>
<line x1="544.39" y1="207.02" x2="544.39" y2="273.68" stroke="#6e6e6e" stroke-width="0.8"/>
<rect x="543.34" y="209.36" width="2.1" height="48.54" fill="#8f3327"/>
<line x1="547.46" y1="211.11" x2="547.46" y2="261.40" stroke="#6e6e6e" stroke-width="0.8"/>
<rect x="546.41" y="223.16" width="2.1" height="34.74" fill="#4d7c5a"/>
<line x1="550.53" y1="221.05" x2="550.53" y2="252.63" stroke="#6e6e6e" stroke-width="0.8"/>
<rect x="549.48" y="223.16" width="2.1" height="11.93" fill="#8f3327"/>
<line x1="553.60" y1="183.60" x2="553.60" y2="249.12" stroke="#6e6e6e" stroke-width="0.8"/>
<rect x="552.55" y="200.41" width="2.1" height="36.08" fill="#4d7c5a"/>
<line x1="556.67" y1="177.02" x2="556.67" y2="204.80" stroke="#6e6e6e" stroke-width="0.8"/>
<rect x="555.62" y="187.25" width="2.1" height="13.16" fill="#4d7c5a"/>
<line x1="559.74" y1="179.21" x2="559.74" y2="213.45" stroke="#6e6e6e" stroke-width="0.8"/>
<rect x="558.69" y="186.96" width="2.1" height="1.02" fill="#8f3327"/>
<line x1="562.81" y1="129.50" x2="562.81" y2="192.37" stroke="#6e6e6e" stroke-width="0.8"/>
<rect x="561.76" y="137.84" width="2.1" height="49.71" fill="#4d7c5a"/>
<line x1="565.88" y1="128.77" x2="565.88" y2="156.55" stroke="#6e6e6e" stroke-width="0.8"/>
<rect x="564.83" y="130.96" width="2.1" height="7.31" fill="#4d7c5a"/>
<line x1="568.95" y1="130.23" x2="568.95" y2="171.90" stroke="#6e6e6e" stroke-width="0.8"/>
<rect x="567.90" y="131.70" width="2.1" height="28.51" fill="#8f3327"/>
<line x1="572.02" y1="155.09" x2="572.02" y2="221.08" stroke="#6e6e6e" stroke-width="0.8"/>
<rect x="570.97" y="158.30" width="2.1" height="33.33" fill="#8f3327"/>
<line x1="575.09" y1="181.40" x2="575.09" y2="215.96" stroke="#6e6e6e" stroke-width="0.8"/>
<rect x="574.04" y="191.64" width="2.1" height="17.02" fill="#8f3327"/>
<line x1="578.16" y1="193.83" x2="578.16" y2="234.97" stroke="#6e6e6e" stroke-width="0.8"/>
<rect x="577.11" y="194.56" width="2.1" height="14.09" fill="#4d7c5a"/>
<line x1="581.23" y1="192.37" x2="581.23" y2="252.51" stroke="#6e6e6e" stroke-width="0.8"/>
<rect x="580.18" y="194.56" width="2.1" height="46.26" fill="#8f3327"/>
<line x1="584.30" y1="215.23" x2="584.30" y2="252.51" stroke="#6e6e6e" stroke-width="0.8"/>
<rect x="583.25" y="225.47" width="2.1" height="15.35" fill="#4d7c5a"/>
<line x1="587.37" y1="202.81" x2="587.37" y2="225.47" stroke="#6e6e6e" stroke-width="0.8"/>
<rect x="586.32" y="213.77" width="2.1" height="10.96" fill="#4d7c5a"/>
<line x1="590.44" y1="209.39" x2="590.44" y2="245.20" stroke="#6e6e6e" stroke-width="0.8"/>
<rect x="589.39" y="213.77" width="2.1" height="16.08" fill="#8f3327"/>
<line x1="593.51" y1="208.65" x2="593.51" y2="235.70" stroke="#6e6e6e" stroke-width="0.8"/>
<rect x="592.46" y="229.56" width="2.1" height="1.46" fill="#8f3327"/>
<line x1="596.58" y1="229.85" x2="596.58" y2="326.67" stroke="#6e6e6e" stroke-width="0.8"/>
<rect x="595.53" y="231.02" width="2.1" height="62.02" fill="#8f3327"/>
<line x1="599.65" y1="281.02" x2="599.65" y2="353.42" stroke="#4a4a4a" stroke-width="0.9"/>
<rect x="598.60" y="293.04" width="2.1" height="5.41" fill="#8f3327"/>
<line x1="602.72" y1="271.52" x2="602.72" y2="312.05" stroke="#6e6e6e" stroke-width="0.8"/>
<rect x="601.67" y="296.70" width="2.1" height="1.75" fill="#4d7c5a"/>
<line x1="605.79" y1="274.44" x2="605.79" y2="302.54" stroke="#6e6e6e" stroke-width="0.8"/>
<rect x="604.74" y="287.92" width="2.1" height="8.04" fill="#4d7c5a"/>
<line x1="608.86" y1="245.94" x2="608.86" y2="288.65" stroke="#6e6e6e" stroke-width="0.8"/>
<rect x="607.81" y="253.98" width="2.1" height="34.24" fill="#4d7c5a"/>
<line x1="611.93" y1="253.25" x2="611.93" y2="300.35" stroke="#6e6e6e" stroke-width="0.8"/>
<rect x="610.88" y="253.98" width="2.1" height="34.24" fill="#8f3327"/>
<line x1="615.00" y1="278.10" x2="615.00" y2="330.32" stroke="#6e6e6e" stroke-width="0.8"/>
<rect x="613.95" y="287.92" width="2.1" height="21.20" fill="#8f3327"/>
<line x1="618.07" y1="292.31" x2="618.07" y2="332.51" stroke="#6e6e6e" stroke-width="0.8"/>
<rect x="617.02" y="307.66" width="2.1" height="1.46" fill="#4d7c5a"/>
<line x1="621.14" y1="289.39" x2="621.14" y2="317.16" stroke="#6e6e6e" stroke-width="0.8"/>
<rect x="620.09" y="292.02" width="2.1" height="15.20" fill="#4d7c5a"/>
<line x1="624.21" y1="282.81" x2="624.21" y2="306.93" stroke="#6e6e6e" stroke-width="0.8"/>
<rect x="623.16" y="292.02" width="2.1" height="7.60" fill="#8f3327"/>
<line x1="627.28" y1="285.73" x2="627.28" y2="322.28" stroke="#6e6e6e" stroke-width="0.8"/>
<rect x="626.23" y="299.33" width="2.1" height="1.46" fill="#8f3327"/>
<line x1="630.35" y1="286.46" x2="630.35" y2="308.39" stroke="#6e6e6e" stroke-width="0.8"/>
<rect x="629.30" y="290.85" width="2.1" height="10.23" fill="#4d7c5a"/>
<line x1="633.42" y1="276.52" x2="633.42" y2="292.31" stroke="#6e6e6e" stroke-width="0.8"/>
<rect x="632.37" y="283.83" width="2.1" height="7.31" fill="#4d7c5a"/>
<line x1="636.49" y1="280.91" x2="636.49" y2="303.27" stroke="#6e6e6e" stroke-width="0.8"/>
<rect x="635.44" y="283.83" width="2.1" height="15.06" fill="#8f3327"/>
<line x1="639.56" y1="298.16" x2="639.56" y2="338.36" stroke="#6e6e6e" stroke-width="0.8"/>
<rect x="638.51" y="298.89" width="2.1" height="33.63" fill="#8f3327"/>
<line x1="642.63" y1="322.28" x2="642.63" y2="344.94" stroke="#6e6e6e" stroke-width="0.8"/>
<rect x="641.58" y="328.13" width="2.1" height="4.39" fill="#4d7c5a"/>
<line x1="645.70" y1="326.67" x2="645.70" y2="374.18" stroke="#6e6e6e" stroke-width="0.8"/>
<rect x="644.65" y="327.84" width="2.1" height="32.46" fill="#8f3327"/>
<line x1="648.77" y1="357.19" x2="648.77" y2="398.13" stroke="#6e6e6e" stroke-width="0.8"/>
<rect x="647.72" y="359.39" width="2.1" height="5.12" fill="#8f3327"/>
<line x1="651.84" y1="346.23" x2="651.84" y2="382.05" stroke="#6e6e6e" stroke-width="0.8"/>
<rect x="650.79" y="352.81" width="2.1" height="11.70" fill="#4d7c5a"/>
<line x1="654.91" y1="349.88" x2="654.91" y2="392.28" stroke="#6e6e6e" stroke-width="0.8"/>
<rect x="653.86" y="352.81" width="2.1" height="29.97" fill="#8f3327"/>
<line x1="657.98" y1="377.66" x2="657.98" y2="426.64" stroke="#6e6e6e" stroke-width="0.8"/>
<rect x="656.93" y="382.05" width="2.1" height="37.57" fill="#8f3327"/>
<line x1="661.05" y1="383.51" x2="661.05" y2="445.64" stroke="#4a4a4a" stroke-width="0.9"/>
<rect x="660.00" y="394.77" width="2.1" height="24.85" fill="#4d7c5a"/>
<line x1="664.12" y1="369.62" x2="664.12" y2="409.82" stroke="#6e6e6e" stroke-width="0.8"/>
<rect x="663.07" y="394.77" width="2.1" height="4.82" fill="#8f3327"/>
<line x1="667.19" y1="368.89" x2="667.19" y2="400.32" stroke="#6e6e6e" stroke-width="0.8"/>
<rect x="666.14" y="380.15" width="2.1" height="19.44" fill="#4d7c5a"/>
<line x1="670.26" y1="365.96" x2="670.26" y2="394.47" stroke="#6e6e6e" stroke-width="0.8"/>
<rect x="669.21" y="367.87" width="2.1" height="12.72" fill="#4d7c5a"/>
<line x1="673.33" y1="357.19" x2="673.33" y2="382.78" stroke="#6e6e6e" stroke-width="0.8"/>
<rect x="672.28" y="367.87" width="2.1" height="4.68" fill="#8f3327"/>
<line x1="676.40" y1="371.08" x2="676.40" y2="392.72" stroke="#6e6e6e" stroke-width="0.8"/>
<rect x="675.35" y="372.25" width="2.1" height="13.74" fill="#8f3327"/>
<line x1="679.47" y1="360.12" x2="679.47" y2="386.43" stroke="#6e6e6e" stroke-width="0.8"/>
<rect x="678.42" y="362.60" width="2.1" height="23.39" fill="#4d7c5a"/>
<line x1="682.54" y1="361.58" x2="682.54" y2="376.93" stroke="#6e6e6e" stroke-width="0.8"/>
<rect x="681.49" y="362.60" width="2.1" height="10.67" fill="#8f3327"/>
<line x1="685.61" y1="344.77" x2="685.61" y2="374.74" stroke="#6e6e6e" stroke-width="0.8"/>
<rect x="684.56" y="345.50" width="2.1" height="28.51" fill="#4d7c5a"/>
<line x1="688.68" y1="325.20" x2="688.68" y2="347.87" stroke="#6e6e6e" stroke-width="0.8"/>
<rect x="687.63" y="331.05" width="2.1" height="15.35" fill="#4d7c5a"/>
<line x1="691.75" y1="323.01" x2="691.75" y2="341.29" stroke="#6e6e6e" stroke-width="0.8"/>
<rect x="690.70" y="326.37" width="2.1" height="5.41" fill="#4d7c5a"/>
<line x1="694.82" y1="298.89" x2="694.82" y2="327.40" stroke="#6e6e6e" stroke-width="0.8"/>
<rect x="693.77" y="300.35" width="2.1" height="26.32" fill="#4d7c5a"/>
<line x1="697.89" y1="295.23" x2="697.89" y2="326.67" stroke="#6e6e6e" stroke-width="0.8"/>
<rect x="696.84" y="300.79" width="2.1" height="19.30" fill="#8f3327"/>
<line x1="700.96" y1="295.96" x2="700.96" y2="323.01" stroke="#6e6e6e" stroke-width="0.8"/>
<rect x="699.91" y="298.45" width="2.1" height="21.64" fill="#4d7c5a"/>
<line x1="704.03" y1="279.88" x2="704.03" y2="301.08" stroke="#6e6e6e" stroke-width="0.8"/>
<rect x="702.98" y="296.70" width="2.1" height="2.92" fill="#4d7c5a"/>
<line x1="707.10" y1="295.23" x2="707.10" y2="324.47" stroke="#6e6e6e" stroke-width="0.8"/>
<rect x="706.05" y="296.70" width="2.1" height="23.10" fill="#8f3327"/>
<line x1="710.17" y1="305.47" x2="710.17" y2="339.09" stroke="#6e6e6e" stroke-width="0.8"/>
<rect x="709.12" y="318.92" width="2.1" height="17.25" fill="#8f3327"/>
<line x1="713.24" y1="320.09" x2="713.24" y2="338.36" stroke="#6e6e6e" stroke-width="0.8"/>
<rect x="712.19" y="327.11" width="2.1" height="9.80" fill="#4d7c5a"/>
<line x1="716.31" y1="316.43" x2="716.31" y2="348.60" stroke="#6e6e6e" stroke-width="0.8"/>
<rect x="715.26" y="327.69" width="2.1" height="13.16" fill="#8f3327"/>
<line x1="719.38" y1="334.71" x2="719.38" y2="352.25" stroke="#6e6e6e" stroke-width="0.8"/>
<rect x="718.33" y="340.26" width="2.1" height="3.51" fill="#8f3327"/>
<line x1="722.45" y1="319.36" x2="722.45" y2="348.60" stroke="#6e6e6e" stroke-width="0.8"/>
<rect x="721.40" y="322.28" width="2.1" height="21.49" fill="#4d7c5a"/>
<line x1="725.52" y1="306.93" x2="725.52" y2="323.74" stroke="#6e6e6e" stroke-width="0.8"/>
<rect x="724.47" y="315.41" width="2.1" height="7.31" fill="#4d7c5a"/>
<line x1="728.59" y1="301.81" x2="728.59" y2="324.18" stroke="#6e6e6e" stroke-width="0.8"/>
<rect x="727.54" y="315.41" width="2.1" height="7.89" fill="#8f3327"/>
<line x1="731.66" y1="302.54" x2="731.66" y2="324.47" stroke="#6e6e6e" stroke-width="0.8"/>
<rect x="730.61" y="306.20" width="2.1" height="17.54" fill="#4d7c5a"/>
<line x1="734.73" y1="299.01" x2="734.73" y2="308.95" stroke="#6e6e6e" stroke-width="0.8"/>
<rect x="733.68" y="304.85" width="2.1" height="2.05" fill="#4d7c5a"/>
<line x1="737.80" y1="289.50" x2="737.80" y2="297.54" stroke="#6e6e6e" stroke-width="0.8"/>
<rect x="736.75" y="290.96" width="2.1" height="4.82" fill="#4d7c5a"/>
<line x1="740.87" y1="289.50" x2="740.87" y2="301.93" stroke="#6e6e6e" stroke-width="0.8"/>
<rect x="739.82" y="290.53" width="2.1" height="1.17" fill="#4d7c5a"/>
<line x1="743.94" y1="285.12" x2="743.94" y2="293.16" stroke="#6e6e6e" stroke-width="0.8"/>
<rect x="742.89" y="289.94" width="2.1" height="2.49" fill="#8f3327"/>
<line x1="747.01" y1="291.70" x2="747.01" y2="315.09" stroke="#6e6e6e" stroke-width="0.8"/>
<rect x="745.96" y="292.43" width="2.1" height="19.01" fill="#8f3327"/>
<line x1="750.08" y1="306.32" x2="750.08" y2="348.71" stroke="#6e6e6e" stroke-width="0.8"/>
<rect x="749.03" y="311.43" width="2.1" height="22.66" fill="#8f3327"/>
<line x1="753.15" y1="328.25" x2="753.15" y2="356.75" stroke="#6e6e6e" stroke-width="0.8"/>
<rect x="752.10" y="334.09" width="2.1" height="18.27" fill="#8f3327"/>
<line x1="756.22" y1="350.12" x2="756.22" y2="377.16" stroke="#6e6e6e" stroke-width="0.8"/>
<rect x="755.17" y="351.14" width="2.1" height="2.34" fill="#8f3327"/>
<line x1="759.29" y1="345.79" x2="759.29" y2="367.72" stroke="#6e6e6e" stroke-width="0.8"/>
<rect x="758.24" y="353.10" width="2.1" height="12.87" fill="#8f3327"/>
<line x1="762.36" y1="337.75" x2="762.36" y2="374.97" stroke="#6e6e6e" stroke-width="0.8"/>
<rect x="761.31" y="344.33" width="2.1" height="21.87" fill="#4d7c5a"/>
<line x1="765.43" y1="334.82" x2="765.43" y2="366.26" stroke="#6e6e6e" stroke-width="0.8"/>
<rect x="764.38" y="344.33" width="2.1" height="12.43" fill="#8f3327"/>
<line x1="768.50" y1="346.52" x2="768.50" y2="364.06" stroke="#6e6e6e" stroke-width="0.8"/>
<rect x="767.45" y="356.02" width="2.1" height="1.17" fill="#8f3327"/>
<line x1="771.57" y1="350.12" x2="771.57" y2="388.86" stroke="#6e6e6e" stroke-width="0.8"/>
<rect x="770.52" y="354.94" width="2.1" height="28.07" fill="#8f3327"/>
<line x1="774.64" y1="376.43" x2="774.64" y2="396.90" stroke="#6e6e6e" stroke-width="0.8"/>
<rect x="773.59" y="379.80" width="2.1" height="3.22" fill="#4d7c5a"/>
<line x1="777.71" y1="370.58" x2="777.71" y2="389.59" stroke="#6e6e6e" stroke-width="0.8"/>
<rect x="776.66" y="379.80" width="2.1" height="0.90" fill="#8f3327"/>
<line x1="780.78" y1="377.89" x2="780.78" y2="395.44" stroke="#6e6e6e" stroke-width="0.8"/>
<rect x="779.73" y="380.09" width="2.1" height="11.99" fill="#8f3327"/>
<line x1="783.85" y1="378.63" x2="783.85" y2="405.67" stroke="#6e6e6e" stroke-width="0.8"/>
<rect x="782.80" y="381.84" width="2.1" height="10.23" fill="#4d7c5a"/>
<line x1="786.92" y1="366.93" x2="786.92" y2="384.47" stroke="#6e6e6e" stroke-width="0.8"/>
<rect x="785.87" y="370.58" width="2.1" height="12.43" fill="#4d7c5a"/>
<line x1="789.99" y1="357.87" x2="789.99" y2="378.63" stroke="#6e6e6e" stroke-width="0.8"/>
<rect x="788.94" y="362.25" width="2.1" height="9.06" fill="#4d7c5a"/>
<line x1="793.06" y1="354.50" x2="793.06" y2="366.93" stroke="#6e6e6e" stroke-width="0.8"/>
<rect x="792.01" y="361.81" width="2.1" height="1.46" fill="#8f3327"/>
<line x1="796.13" y1="357.43" x2="796.13" y2="373.51" stroke="#6e6e6e" stroke-width="0.8"/>
<rect x="795.08" y="362.54" width="2.1" height="6.14" fill="#8f3327"/>
<line x1="799.20" y1="361.08" x2="799.20" y2="380.09" stroke="#6e6e6e" stroke-width="0.8"/>
<rect x="798.15" y="361.81" width="2.1" height="7.31" fill="#4d7c5a"/>
<line x1="802.27" y1="358.89" x2="802.27" y2="373.51" stroke="#6e6e6e" stroke-width="0.8"/>
<rect x="801.22" y="361.81" width="2.1" height="10.96" fill="#8f3327"/>
<line x1="805.34" y1="368.39" x2="805.34" y2="376.87" stroke="#6e6e6e" stroke-width="0.8"/>
<rect x="804.29" y="372.49" width="2.1" height="2.92" fill="#8f3327"/>
<line x1="808.41" y1="372.78" x2="808.41" y2="391.78" stroke="#6e6e6e" stroke-width="0.8"/>
<rect x="807.36" y="374.24" width="2.1" height="9.94" fill="#8f3327"/>
<line x1="811.48" y1="381.55" x2="811.48" y2="395.00" stroke="#6e6e6e" stroke-width="0.8"/>
<rect x="810.43" y="383.30" width="2.1" height="11.11" fill="#8f3327"/>
<line x1="814.55" y1="385.20" x2="814.55" y2="395.44" stroke="#6e6e6e" stroke-width="0.8"/>
<rect x="813.50" y="388.86" width="2.1" height="5.56" fill="#4d7c5a"/>
<line x1="817.62" y1="388.13" x2="817.62" y2="418.10" stroke="#6e6e6e" stroke-width="0.8"/>
<rect x="816.57" y="389.15" width="2.1" height="24.56" fill="#8f3327"/>
<line x1="820.69" y1="407.13" x2="820.69" y2="428.33" stroke="#6e6e6e" stroke-width="0.8"/>
<rect x="819.64" y="412.98" width="2.1" height="7.75" fill="#8f3327"/>
<line x1="823.76" y1="408.60" x2="823.76" y2="421.75" stroke="#6e6e6e" stroke-width="0.8"/>
<rect x="822.71" y="417.81" width="2.1" height="3.22" fill="#4d7c5a"/>
<line x1="826.83" y1="414.12" x2="826.83" y2="431.67" stroke="#6e6e6e" stroke-width="0.8"/>
<rect x="825.78" y="417.87" width="2.1" height="3.51" fill="#8f3327"/>
<line x1="829.90" y1="413.19" x2="829.90" y2="422.08" stroke="#6e6e6e" stroke-width="0.8"/>
<rect x="828.85" y="414.12" width="2.1" height="7.25" fill="#4d7c5a"/>
<line x1="832.97" y1="401.49" x2="832.97" y2="415.29" stroke="#6e6e6e" stroke-width="0.8"/>
<rect x="831.92" y="404.18" width="2.1" height="10.53" fill="#4d7c5a"/>
<line x1="836.04" y1="403.60" x2="836.04" y2="422.89" stroke="#6e6e6e" stroke-width="0.8"/>
<rect x="834.99" y="404.18" width="2.1" height="17.19" fill="#8f3327"/>
<line x1="839.11" y1="417.63" x2="839.11" y2="427.57" stroke="#6e6e6e" stroke-width="0.8"/>
<rect x="838.06" y="420.56" width="2.1" height="1.99" fill="#8f3327"/>
<line x1="842.18" y1="420.91" x2="842.18" y2="428.74" stroke="#6e6e6e" stroke-width="0.8"/>
<rect x="841.13" y="422.08" width="2.1" height="4.68" fill="#8f3327"/>
<line x1="845.25" y1="413.89" x2="845.25" y2="427.22" stroke="#6e6e6e" stroke-width="0.8"/>
<rect x="844.20" y="418.22" width="2.1" height="8.54" fill="#4d7c5a"/>
<line x1="848.32" y1="412.95" x2="848.32" y2="419.39" stroke="#6e6e6e" stroke-width="0.8"/>
<rect x="847.27" y="415.06" width="2.1" height="3.74" fill="#4d7c5a"/>
<line x1="851.39" y1="411.20" x2="851.39" y2="425.82" stroke="#6e6e6e" stroke-width="0.8"/>
<rect x="850.34" y="415.06" width="2.1" height="7.02" fill="#8f3327"/>
<line x1="854.46" y1="418.22" x2="854.46" y2="424.65" stroke="#6e6e6e" stroke-width="0.8"/>
<rect x="853.41" y="419.97" width="2.1" height="2.11" fill="#4d7c5a"/>
<line x1="857.53" y1="415.88" x2="857.53" y2="420.91" stroke="#6e6e6e" stroke-width="0.8"/>
<rect x="856.48" y="417.05" width="2.1" height="3.16" fill="#4d7c5a"/>
<line x1="860.60" y1="385.47" x2="860.60" y2="422.08" stroke="#6e6e6e" stroke-width="0.8"/>
<rect x="859.55" y="389.33" width="2.1" height="28.30" fill="#4d7c5a"/>
<line x1="863.67" y1="380.79" x2="863.67" y2="394.24" stroke="#6e6e6e" stroke-width="0.8"/>
<rect x="862.62" y="389.33" width="2.1" height="1.99" fill="#8f3327"/>
<line x1="866.74" y1="381.61" x2="866.74" y2="392.13" stroke="#6e6e6e" stroke-width="0.8"/>
<rect x="865.69" y="387.22" width="2.1" height="4.44" fill="#4d7c5a"/>
<line x1="869.81" y1="376.11" x2="869.81" y2="388.16" stroke="#6e6e6e" stroke-width="0.8"/>
<rect x="868.76" y="378.10" width="2.1" height="9.71" fill="#4d7c5a"/>
<path d="M1.00,540.82 L4.07,540.95 L7.14,540.92 L10.21,541.04 L13.28,541.62 L16.35,542.20 L19.42,542.44 L22.49,542.82 L25.56,543.55 L28.63,544.81 L31.70,546.13 L34.77,546.44 L37.84,546.45 L40.91,546.68 L43.98,545.15 L47.05,544.44 L50.12,543.30 L53.19,542.51 L56.26,541.69 L59.33,541.56 L62.40,541.56 L65.47,541.16 L68.54,540.46 L71.61,540.14 L74.68,539.66 L77.75,538.92 L80.82,538.59 L83.89,538.38 L86.96,537.94 L90.03,537.36 L93.10,535.73 L96.17,534.46 L99.24,532.78 L102.31,531.17 L105.38,530.02 L108.45,528.67 L111.52,526.84 L114.59,524.54 L117.66,522.03 L120.73,519.04 L123.80,516.84 L126.87,514.21 L129.94,512.15 L133.01,510.78 L136.08,509.53 L139.15,508.52 L142.22,507.77 L145.29,506.76 L148.36,505.80 L151.43,504.41 L154.50,502.98 L157.57,501.81 L160.64,500.68 L163.71,499.59 L166.78,498.04 L169.85,496.69 L172.92,495.03 L175.99,493.04 L179.06,492.10 L182.13,491.19 L185.20,491.30 L188.27,491.09 L191.34,490.30 L194.41,489.56 L197.48,489.73 L200.55,489.90 L203.62,490.26 L206.69,490.68 L209.76,491.16 L212.83,492.36 L215.90,495.12 L218.97,496.38 L222.04,497.65 L225.11,498.80 L228.18,498.60 L231.25,499.06 L234.32,499.50 L237.39,500.59 L240.46,501.51 L243.53,501.90 L246.60,502.63 L249.67,502.57 L252.74,502.65 L255.81,501.85 L258.88,501.17 L261.95,500.64 L265.02,499.71 L268.09,498.70 L271.16,497.74 L274.23,497.13 L277.30,496.85 L280.37,496.26 L283.44,495.50 L286.51,494.79 L289.58,493.66 L292.65,492.17 L295.72,490.97 L298.79,489.65 L301.86,486.79 L304.93,483.58 L308.00,480.31 L311.07,477.69 L314.14,475.11 L317.21,473.26 L320.28,471.62 L323.35,469.74 L326.42,467.29 L329.49,464.99 L332.56,463.09 L335.63,461.60 L338.70,461.23 L341.77,460.27 L344.84,458.94 L347.91,458.13 L350.98,457.53 L354.05,455.85 L357.12,454.42 L360.19,452.26 L363.26,449.48 L366.33,446.23 L369.40,442.91 L372.47,439.29 L375.54,436.11 L378.61,434.27 L381.68,432.17 L384.75,429.39 L387.82,427.73 L390.89,427.73 L393.96,428.36 L397.03,430.21 L400.10,430.11 L403.17,429.74 L406.24,427.63 L409.31,424.23 L412.38,421.68 L415.45,419.07 L418.52,416.02 L421.59,412.69 L424.66,410.08 L427.73,407.30 L430.80,405.51 L433.87,403.28 L436.94,399.84 L440.01,395.28 L443.08,389.97 L446.15,384.76 L449.22,380.17 L452.29,375.69 L455.36,369.23 L458.43,363.32 L461.50,356.98 L464.57,350.26 L467.64,344.01 L470.71,333.12 L473.78,315.30 L476.85,301.37 L479.92,292.04 L482.99,283.31 L486.06,270.65 L489.13,258.69 L492.20,248.96 L495.27,239.72 L498.34,228.50 L501.41,213.76 L504.48,201.11 L507.55,189.76 L510.62,182.71 L513.69,179.66 L516.76,179.21 L519.83,183.04 L522.90,184.83 L525.97,187.71 L529.04,191.01 L532.11,188.99 L535.18,188.27 L538.25,189.98 L541.32,191.94 L544.39,198.22 L547.46,200.60 L550.53,203.88 L553.60,203.55 L556.67,202.00 L559.74,200.66 L562.81,194.68 L565.88,188.61 L568.95,185.91 L572.02,186.45 L575.09,188.57 L578.16,189.14 L581.23,194.06 L584.30,197.05 L587.37,198.64 L590.44,201.62 L593.51,204.42 L596.58,212.86 L599.65,221.01 L602.72,228.22 L605.79,233.90 L608.86,235.82 L611.93,240.81 L615.00,247.31 L618.07,253.06 L621.14,256.77 L624.21,260.85 L627.28,264.65 L630.35,267.15 L633.42,268.74 L636.49,271.61 L639.56,277.41 L642.63,282.24 L645.70,289.67 L648.77,296.80 L651.84,302.13 L654.91,309.81 L657.98,320.27 L661.05,327.37 L664.12,334.25 L667.19,338.62 L670.26,341.40 L673.33,344.37 L676.40,348.33 L679.47,349.69 L682.54,351.94 L685.61,351.32 L688.68,349.39 L691.75,347.20 L694.82,342.74 L697.89,340.58 L700.96,336.57 L704.03,332.77 L707.10,331.54 L710.17,331.98 L713.24,331.51 L716.31,332.40 L719.38,333.49 L722.45,332.42 L725.52,330.80 L728.59,330.08 L731.66,327.81 L734.73,325.62 L737.80,322.32 L740.87,319.29 L743.94,316.74 L747.01,316.23 L750.08,317.93 L753.15,321.21 L756.22,324.28 L759.29,328.25 L762.36,329.78 L765.43,332.35 L768.50,334.72 L771.57,339.32 L774.64,343.17 L777.71,346.74 L780.78,351.06 L783.85,353.99 L786.92,355.57 L789.99,356.21 L793.06,356.88 L796.13,358.01 L799.20,358.37 L802.27,359.74 L805.34,361.23 L808.41,363.42 L811.48,366.37 L814.55,368.51 L817.62,372.82 L820.69,377.38 L823.76,381.23 L826.83,385.05 L829.90,387.82 L832.97,389.38 L836.04,392.43 L839.11,395.30 L842.18,398.29 L845.25,400.19 L848.32,401.61 L851.39,403.56 L854.46,405.12 L857.53,406.25 L860.60,404.64 L863.67,403.37 L866.74,401.84 L869.81,399.57" fill="none" stroke="#5a5aff" stroke-width="1" stroke-linejoin="round"/>
<path d="M93.2,542.6 L93.2,533.6999999999999 M89.0,540.3 L93.2,533.6999999999999 L97.4,540.3" fill="none" stroke="#7a8fd6" stroke-width="1.4" stroke-linecap="round" stroke-linejoin="round"/>
<path d="M145.3,525.0 L145.3,513.6999999999999 M141.10000000000002,520.3 L145.3,513.6999999999999 L149.5,520.3" fill="none" stroke="#7a8fd6" stroke-width="1.4" stroke-linecap="round" stroke-linejoin="round"/>
<path d="M197.5,471.29999999999995 L197.5,481.0 M193.3,474.4 L197.5,481.0 L201.7,474.4" fill="none" stroke="#7a8fd6" stroke-width="1.4" stroke-linecap="round" stroke-linejoin="round"/>
<path d="M231.0,487.29999999999995 L231.0,495.09999999999997 M226.8,488.49999999999994 L231.0,495.09999999999997 L235.2,488.49999999999994" fill="none" stroke="#7a8fd6" stroke-width="1.4" stroke-linecap="round" stroke-linejoin="round"/>
<path d="M219.5,540.1 L219.5,530.0 M215.3,536.6 L219.5,530.0 L223.7,536.6" fill="none" stroke="#7a8fd6" stroke-width="1.4" stroke-linecap="round" stroke-linejoin="round"/>
<path d="M255.7,518.9 L255.7,506.7 M251.5,513.3 L255.7,506.7 L259.9,513.3" fill="none" stroke="#7a8fd6" stroke-width="1.4" stroke-linecap="round" stroke-linejoin="round"/>
<path d="M279.6,509.09999999999997 L279.6,497.4 M275.40000000000003,504.0 L279.6,497.4 L283.8,504.0" fill="none" stroke="#7a8fd6" stroke-width="1.4" stroke-linecap="round" stroke-linejoin="round"/>
<path d="M301.7,491.59999999999997 L301.7,479.4 M297.5,486.0 L301.7,479.4 L305.9,486.0" fill="none" stroke="#7a8fd6" stroke-width="1.4" stroke-linecap="round" stroke-linejoin="round"/>
<path d="M311.3,436.4 L311.3,445.4 M307.1,438.79999999999995 L311.3,445.4 L315.5,438.79999999999995" fill="none" stroke="#7a8fd6" stroke-width="1.4" stroke-linecap="round" stroke-linejoin="round"/>
<path d="M357.1,469.0 L357.1,456.59999999999997 M352.90000000000003,463.2 L357.1,456.59999999999997 L361.3,463.2" fill="none" stroke="#7a8fd6" stroke-width="1.4" stroke-linecap="round" stroke-linejoin="round"/>
<path d="M384.6,378.29999999999995 L384.6,387.7 M380.40000000000003,381.09999999999997 L384.6,387.7 L388.8,381.09999999999997" fill="none" stroke="#7a8fd6" stroke-width="1.4" stroke-linecap="round" stroke-linejoin="round"/>
<path d="M400.2,464.5 L400.2,451.59999999999997 M396.0,458.2 L400.2,451.59999999999997 L404.4,458.2" fill="none" stroke="#7a8fd6" stroke-width="1.4" stroke-linecap="round" stroke-linejoin="round"/>
<path d="M437.0,417.9 L437.0,388.79999999999995 M432.8,395.4 L437.0,388.79999999999995 L441.2,395.4" fill="none" stroke="#7a8fd6" stroke-width="1.4" stroke-linecap="round" stroke-linejoin="round"/>
<path d="M483.2,279.2 L483.2,251.5 M479.0,258.1 L483.2,251.5 L487.4,258.1" fill="none" stroke="#7a8fd6" stroke-width="1.4" stroke-linecap="round" stroke-linejoin="round"/>
<path d="M510.8,28.2 L510.8,63.9 M506.6,57.3 L510.8,63.9 L515.0,57.3" fill="none" stroke="#7a8fd6" stroke-width="1.4" stroke-linecap="round" stroke-linejoin="round"/>
<path d="M569.0,86.9 L569.0,122.60000000000001 M564.8,116.00000000000001 L569.0,122.60000000000001 L573.2,116.00000000000001" fill="none" stroke="#7a8fd6" stroke-width="1.4" stroke-linecap="round" stroke-linejoin="round"/>
<path d="M599.8,416.7 L599.8,369.9 M595.5999999999999,376.5 L599.8,369.9 L604.0,376.5" fill="none" stroke="#7a8fd6" stroke-width="1.4" stroke-linecap="round" stroke-linejoin="round"/>
<path d="M661.3,501.9 L661.3,454.9 M657.0999999999999,461.5 L661.3,454.9 L665.5,461.5" fill="none" stroke="#7a8fd6" stroke-width="1.4" stroke-linecap="round" stroke-linejoin="round"/>
<path d="M704.1,230.8 L704.1,269.4 M699.9,262.79999999999995 L704.1,269.4 L708.3000000000001,262.79999999999995" fill="none" stroke="#7a8fd6" stroke-width="1.4" stroke-linecap="round" stroke-linejoin="round"/>
<path d="M746.7,240.20000000000002 L746.7,278.7 M742.5,272.09999999999997 L746.7,278.7 L750.9000000000001,272.09999999999997" fill="none" stroke="#7a8fd6" stroke-width="1.4" stroke-linecap="round" stroke-linejoin="round"/>
<path d="M802.4,317.79999999999995 L802.4,356.9 M798.1999999999999,350.29999999999995 L802.4,356.9 L806.6,350.29999999999995" fill="none" stroke="#7a8fd6" stroke-width="1.4" stroke-linecap="round" stroke-linejoin="round"/>
<path d="M860.6,475.2 L860.6,426.7 M856.4,433.3 L860.6,426.7 L864.8000000000001,433.3" fill="none" stroke="#7a8fd6" stroke-width="1.4" stroke-linecap="round" stroke-linejoin="round"/>
<rect x="990.6" y="0" width="40" height="650" fill="#fff"/>
<line x1="990.05" y1="2" x2="990.05" y2="637" stroke="#c0c0c0" stroke-width="1.75"/>
<line x1="990" y1="612.10" x2="992.4" y2="612.10" stroke="#666" stroke-width="0.9"/>
<text x="994.5" y="615.20" font-size="7.5" fill="#505050" stroke="#505050" stroke-width="0.12">0.00</text>
<line x1="990" y1="584.07" x2="992.4" y2="584.07" stroke="#666" stroke-width="0.9"/>
<text x="994.5" y="587.17" font-size="7.5" fill="#505050" stroke="#505050" stroke-width="0.12">1000.00</text>
<line x1="990" y1="556.04" x2="992.4" y2="556.04" stroke="#666" stroke-width="0.9"/>
<text x="994.5" y="559.14" font-size="7.5" fill="#505050" stroke="#505050" stroke-width="0.12">2000.00</text>
<line x1="990" y1="528.01" x2="992.4" y2="528.01" stroke="#666" stroke-width="0.9"/>
<text x="994.5" y="531.11" font-size="7.5" fill="#505050" stroke="#505050" stroke-width="0.12">3000.00</text>
<line x1="990" y1="499.98" x2="992.4" y2="499.98" stroke="#666" stroke-width="0.9"/>
<text x="994.5" y="503.08" font-size="7.5" fill="#505050" stroke="#505050" stroke-width="0.12">4000.00</text>
<line x1="990" y1="471.95" x2="992.4" y2="471.95" stroke="#666" stroke-width="0.9"/>
<text x="994.5" y="475.05" font-size="7.5" fill="#505050" stroke="#505050" stroke-width="0.12">5000.00</text>
<line x1="990" y1="443.92" x2="992.4" y2="443.92" stroke="#666" stroke-width="0.9"/>
<text x="994.5" y="447.02" font-size="7.5" fill="#505050" stroke="#505050" stroke-width="0.12">6000.00</text>
<line x1="990" y1="415.89" x2="992.4" y2="415.89" stroke="#666" stroke-width="0.9"/>
<text x="994.5" y="418.99" font-size="7.5" fill="#505050" stroke="#505050" stroke-width="0.12">7000.00</text>
<line x1="990" y1="387.86" x2="992.4" y2="387.86" stroke="#666" stroke-width="0.9"/>
<text x="994.5" y="390.96" font-size="7.5" fill="#505050" stroke="#505050" stroke-width="0.12">8000.00</text>
<line x1="990" y1="359.83" x2="992.4" y2="359.83" stroke="#666" stroke-width="0.9"/>
<text x="994.5" y="362.93" font-size="7.5" fill="#505050" stroke="#505050" stroke-width="0.12">9000.00</text>
<line x1="990" y1="331.80" x2="992.4" y2="331.80" stroke="#666" stroke-width="0.9"/>
<text x="994.5" y="334.90" font-size="7.5" fill="#505050" stroke="#505050" stroke-width="0.12">10000.00</text>
<line x1="990" y1="303.77" x2="992.4" y2="303.77" stroke="#666" stroke-width="0.9"/>
<text x="994.5" y="306.87" font-size="7.5" fill="#505050" stroke="#505050" stroke-width="0.12">11000.00</text>
<line x1="990" y1="275.74" x2="992.4" y2="275.74" stroke="#666" stroke-width="0.9"/>
<text x="994.5" y="278.84" font-size="7.5" fill="#505050" stroke="#505050" stroke-width="0.12">12000.00</text>
<line x1="990" y1="247.71" x2="992.4" y2="247.71" stroke="#666" stroke-width="0.9"/>
<text x="994.5" y="250.81" font-size="7.5" fill="#505050" stroke="#505050" stroke-width="0.12">13000.00</text>
<line x1="990" y1="219.68" x2="992.4" y2="219.68" stroke="#666" stroke-width="0.9"/>
<text x="994.5" y="222.78" font-size="7.5" fill="#505050" stroke="#505050" stroke-width="0.12">14000.00</text>
<line x1="990" y1="191.65" x2="992.4" y2="191.65" stroke="#666" stroke-width="0.9"/>
<text x="994.5" y="194.75" font-size="7.5" fill="#505050" stroke="#505050" stroke-width="0.12">15000.00</text>
<line x1="990" y1="163.62" x2="992.4" y2="163.62" stroke="#666" stroke-width="0.9"/>
<text x="994.5" y="166.72" font-size="7.5" fill="#505050" stroke="#505050" stroke-width="0.12">16000.00</text>
<line x1="990" y1="135.59" x2="992.4" y2="135.59" stroke="#666" stroke-width="0.9"/>
<text x="994.5" y="138.69" font-size="7.5" fill="#505050" stroke="#505050" stroke-width="0.12">17000.00</text>
<line x1="990" y1="107.56" x2="992.4" y2="107.56" stroke="#666" stroke-width="0.9"/>
<text x="994.5" y="110.66" font-size="7.5" fill="#505050" stroke="#505050" stroke-width="0.12">18000.00</text>
<line x1="990" y1="79.53" x2="992.4" y2="79.53" stroke="#666" stroke-width="0.9"/>
<text x="994.5" y="82.63" font-size="7.5" fill="#505050" stroke="#505050" stroke-width="0.12">19000.00</text>
<line x1="990" y1="51.50" x2="992.4" y2="51.50" stroke="#666" stroke-width="0.9"/>
<text x="994.5" y="54.60" font-size="7.5" fill="#505050" stroke="#505050" stroke-width="0.12">20000.00</text>
<line x1="990" y1="23.47" x2="992.4" y2="23.47" stroke="#666" stroke-width="0.9"/>
<text x="994.5" y="26.57" font-size="7.5" fill="#505050" stroke="#505050" stroke-width="0.12">21000.00</text>
<rect x="990" y="373.10" width="34" height="11" fill="#6aa57e"/>
<line x1="990" y1="378.60" x2="993" y2="378.60" stroke="#fff" stroke-width="0.8"/>
<text x="994.5" y="381.50" font-size="7.5" fill="#fff" stroke="#fff" stroke-width="0.2">8332.39</text>
<rect x="990" y="455.00" width="34" height="11" fill="#2a1aff"/>
<line x1="990" y1="460.50" x2="993" y2="460.50" stroke="#fff" stroke-width="0.8"/>
<text x="994.5" y="463.40" font-size="7.5" fill="#fff" stroke="#fff" stroke-width="0.2">5407.32</text>
<rect x="990" y="524.30" width="34" height="11" fill="#2a1aff"/>
<line x1="990" y1="529.80" x2="993" y2="529.80" stroke="#fff" stroke-width="0.8"/>
<text x="994.5" y="532.70" font-size="7.5" fill="#fff" stroke="#fff" stroke-width="0.2">2947.95</text>
<rect x="990" y="535.00" width="34" height="11" fill="#2a1aff"/>
<line x1="990" y1="540.50" x2="993" y2="540.50" stroke="#fff" stroke-width="0.8"/>
<text x="994.5" y="543.40" font-size="7.5" fill="#fff" stroke="#fff" stroke-width="0.2">2927.28</text>
<rect x="990" y="555.70" width="34" height="11" fill="#2a1aff"/>
<line x1="990" y1="561.20" x2="993" y2="561.20" stroke="#fff" stroke-width="0.8"/>
<text x="994.5" y="564.10" font-size="7.5" fill="#fff" stroke="#fff" stroke-width="0.2">1825.51</text>
<rect x="990" y="574.50" width="34" height="11" fill="#2a1aff"/>
<line x1="990" y1="580.00" x2="993" y2="580.00" stroke="#fff" stroke-width="0.8"/>
<text x="994.5" y="582.90" font-size="7.5" fill="#fff" stroke="#fff" stroke-width="0.2">1153.26</text>
<rect x="0" y="637.5" width="1030" height="13" fill="#fff"/>
<line x1="1" y1="637.5" x2="990.9" y2="637.5" stroke="#7d7d7d" stroke-width="1.1"/>
<line x1="81.5" y1="637.5" x2="81.5" y2="640" stroke="#555" stroke-width="1"/>
<text x="81.5" y="647" font-size="7.5" fill="#4c4c4c" stroke="#4c4c4c" stroke-width="0.12" text-anchor="middle">Aug</text>
<line x1="176.5" y1="637.5" x2="176.5" y2="640" stroke="#555" stroke-width="1"/>
<text x="176.5" y="647" font-size="7.5" fill="#4c4c4c" stroke="#4c4c4c" stroke-width="0.12" text-anchor="middle">Sep</text>
<line x1="269.5" y1="637.5" x2="269.5" y2="640" stroke="#555" stroke-width="1"/>
<text x="269.5" y="647" font-size="7.5" fill="#4c4c4c" stroke="#4c4c4c" stroke-width="0.12" text-anchor="middle">Oct</text>
<line x1="363.5" y1="637.5" x2="363.5" y2="640" stroke="#555" stroke-width="1"/>
<text x="363.5" y="647" font-size="7.5" fill="#4c4c4c" stroke="#4c4c4c" stroke-width="0.12" text-anchor="middle">Nov</text>
<line x1="455.5" y1="637.5" x2="455.5" y2="640" stroke="#555" stroke-width="1"/>
<text x="455.5" y="647" font-size="7.5" fill="#4c4c4c" stroke="#4c4c4c" stroke-width="0.12" text-anchor="middle">Dec</text>
<line x1="551.5" y1="637.5" x2="551.5" y2="640" stroke="#555" stroke-width="1"/>
<text x="551.5" y="647" font-size="7.5" fill="#4c4c4c" stroke="#4c4c4c" stroke-width="0.12" text-anchor="middle" font-weight="bold">2018</text>
<line x1="646.5" y1="637.5" x2="646.5" y2="640" stroke="#555" stroke-width="1"/>
<text x="646.5" y="647" font-size="7.5" fill="#4c4c4c" stroke="#4c4c4c" stroke-width="0.12" text-anchor="middle">Feb</text>
<line x1="732.5" y1="637.5" x2="732.5" y2="640" stroke="#555" stroke-width="1"/>
<text x="732.5" y="647" font-size="7.5" fill="#4c4c4c" stroke="#4c4c4c" stroke-width="0.12" text-anchor="middle">Mar</text>
<line x1="827.5" y1="637.5" x2="827.5" y2="640" stroke="#555" stroke-width="1"/>
<text x="827.5" y="647" font-size="7.5" fill="#4c4c4c" stroke="#4c4c4c" stroke-width="0.12" text-anchor="middle">Apr</text>
<line x1="919.5" y1="637.5" x2="919.5" y2="640" stroke="#555" stroke-width="1"/>
<text x="919.5" y="647" font-size="7.5" fill="#4c4c4c" stroke="#4c4c4c" stroke-width="0.12" text-anchor="middle">May</text>
<g><ellipse cx="880.9" cy="627" rx="10.2" ry="7.9" fill="#fff" stroke="#f5a030" stroke-width="1.3"/><ellipse cx="875.3" cy="627" rx="9.9" ry="7.8" fill="#fff" stroke="#f04a6c" stroke-width="1.9"/><path d="M868.2,626.2 L875,626.2 Q880,627.6 888.6,626.6 L888.6,631.5 Q884,634.2 876,634 Q870,633.6 868.2,631 Z" fill="#ef4a6a"/><rect x="869.3" y="629.1" width="17.5" height="1" fill="#fff"/><rect x="871" y="632.3" width="13" height="0.7" fill="#fff" opacity="0.8"/><rect x="869" y="621.5" width="6.1" height="7.3" fill="#5b8fe0"/><path d="M870.6,621.5 v7.3 M872.1,621.5 v7.3 M873.6,621.5 v7.3" stroke="#8fb2ea" stroke-width="0.5"/><rect x="876.2" y="618.3" width="16.3" height="7.6" fill="#fff"/><text x="878" y="624.8" font-size="6.8" fill="#222">4</text></g>
<rect x="5.3" y="11.2" width="7.3" height="6.9" rx="1" fill="#fff" stroke="#858585" stroke-width="0.9"/>
<line x1="6.6" y1="14.65" x2="11.3" y2="14.65" stroke="#666" stroke-width="0.9"/>
<text x="17.5" y="18.9" font-size="11.8" fill="#505050" stroke="#505050" stroke-width="0.3" textLength="34.9" lengthAdjust="spacingAndGlyphs">Bitcoin</text>
<text x="57.4" y="18.9" font-size="11.8" fill="#505050" stroke="#505050" stroke-width="0.3" textLength="4.5" lengthAdjust="spacingAndGlyphs">/</text>
<text x="66.3" y="18.9" font-size="11.8" fill="#505050" stroke="#505050" stroke-width="0.3" textLength="31.6" lengthAdjust="spacingAndGlyphs">Dollar,</text>
<text x="102.6" y="18.9" font-size="11.8" fill="#505050" stroke="#505050" stroke-width="0.3" textLength="15.3" lengthAdjust="spacingAndGlyphs">1D,</text>
<text x="123.0" y="18.9" font-size="11.8" fill="#505050" stroke="#505050" stroke-width="0.3" textLength="48.2" lengthAdjust="spacingAndGlyphs">BITSTAMP</text>
<path d="M174.2,14.2 l4.2,0 l-2.1,2.7 z" fill="#c6c6c6"/>
<rect x="186.4" y="10.8" width="8.5" height="8.9" rx="0.8" fill="#dadada"/>
<circle cx="190.65" cy="15.3" r="2.2" fill="none" stroke="#fff" stroke-width="1"/>
<rect x="197.5" y="10.8" width="8.5" height="8.9" rx="0.8" fill="#dadada"/>
<circle cx="201.75" cy="15.3" r="2.2" fill="none" stroke="#fff" stroke-width="1"/>
<text x="212.8" y="18.9" font-size="10.4" fill="#6a6a6a" textLength="6.4" lengthAdjust="spacingAndGlyphs">O</text>
<text x="220.6" y="18.9" font-size="10.5" fill="#3b6a4b" stroke="#3b6a4b" stroke-width="0.22" textLength="34.6" lengthAdjust="spacingAndGlyphs">8003.39</text>
<text x="262.2" y="18.9" font-size="10.4" fill="#6a6a6a" textLength="5.8" lengthAdjust="spacingAndGlyphs">H</text>
<text x="269.3" y="18.9" font-size="10.5" fill="#3b6a4b" stroke="#3b6a4b" stroke-width="0.22" textLength="34.6" lengthAdjust="spacingAndGlyphs">8417.00</text>
<text x="311.4" y="18.9" font-size="10.4" fill="#6a6a6a" textLength="4.5" lengthAdjust="spacingAndGlyphs">L</text>
<text x="316.6" y="18.9" font-size="10.5" fill="#3b6a4b" stroke="#3b6a4b" stroke-width="0.22" textLength="34.6" lengthAdjust="spacingAndGlyphs">8001.23</text>
<text x="358.8" y="18.9" font-size="10.4" fill="#6a6a6a" textLength="5.9" lengthAdjust="spacingAndGlyphs">C</text>
<text x="366.3" y="18.9" font-size="10.5" fill="#3b6a4b" stroke="#3b6a4b" stroke-width="0.22" textLength="34.6" lengthAdjust="spacingAndGlyphs">8332.39</text>
<text x="4.6" y="31.9" font-size="8.6" fill="#5e5e5e" textLength="55.5" lengthAdjust="spacingAndGlyphs">EMA (20, close)</text>
<path d="M63.1,27.0 l4.4,0 l-2.2,2.8 z" fill="#c8c8c8"/>
<rect x="74.7" y="24.0" width="8.7" height="9.1" rx="0.8" fill="#dcdcdc"/>
<circle cx="79.05" cy="28.55" r="2.1" fill="none" stroke="#fff" stroke-width="1"/>
<rect x="86.0" y="24.0" width="8.7" height="9.1" rx="0.8" fill="#dcdcdc"/>
<circle cx="90.35" cy="28.55" r="2.1" fill="none" stroke="#fff" stroke-width="1"/>
<rect x="97.8" y="24.0" width="8.7" height="9.1" rx="0.8" fill="#dcdcdc"/>
<path d="M102.14999999999999,26.0 v5.1 M99.6,28.55 h5.1" stroke="#fff" stroke-width="1.3" fill="none"/>
<rect x="109.3" y="24.0" width="8.7" height="9.1" rx="0.8" fill="#dcdcdc"/>
<path d="M111.5,26.4 l4.3,4.3 M115.8,26.4 l-4.3,4.3" stroke="#fff" stroke-width="1.1" fill="none"/>
<text x="123.7" y="31.9" font-size="8.6" fill="#3a3aff" stroke="#3a3aff" stroke-width="0.15" textLength="36.7" lengthAdjust="spacingAndGlyphs">7577.0277</text>
<rect x="0" y="0" width="1030" height="1.8" fill="#e6eaef"/>
<rect x="1028" y="0" width="2" height="650" fill="#e6eaef"/>
<rect x="0" y="0" width="1" height="650" fill="#e9edf1"/>
<defs><linearGradient id="sh" x1="0" y1="0" x2="0" y2="1"><stop offset="0" stop-color="#aab0b8"/><stop offset="1" stop-color="#aab0b8" stop-opacity="0"/></linearGradient></defs>
<rect x="599.5" y="0" width="218" height="3.2" rx="1.5" fill="url(#sh)"/>
</svg></body></html>
